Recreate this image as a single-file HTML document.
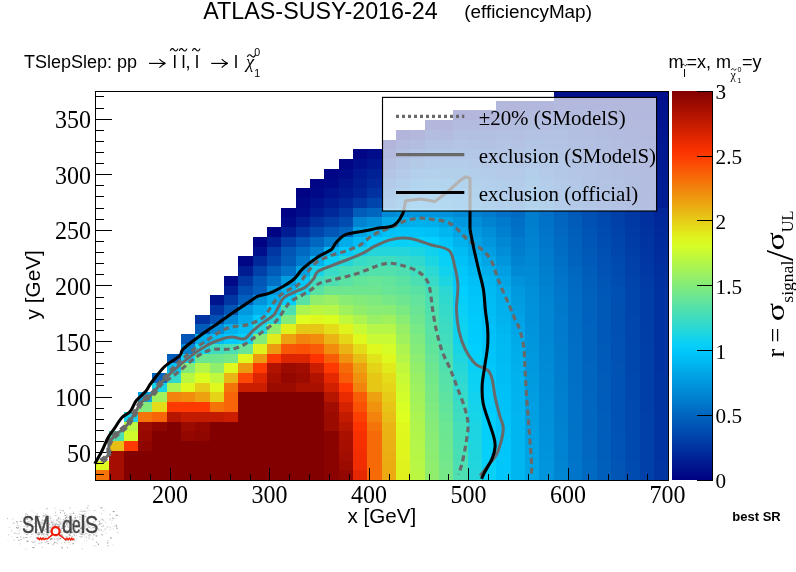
<!DOCTYPE html><html><head><meta charset="utf-8"><title>plot</title><style>html,body{margin:0;padding:0;background:#fff}svg{display:block}text{font-family:"Liberation Sans",sans-serif;fill:#000;filter:grayscale(1)}.t{font-family:"Liberation Serif",serif}</style></head><body>
<svg width="796" height="572" viewBox="0 0 796 572">
<rect width="796" height="572" fill="#fff"/>
<g shape-rendering="crispEdges">
<rect x="95" y="470" width="14" height="11" fill="#f4740a"/>
<rect x="109" y="470" width="15" height="11" fill="#a40e00"/>
<rect x="124" y="470" width="200" height="11" fill="#820000"/>
<rect x="324" y="470" width="15" height="11" fill="#8a0300"/>
<rect x="339" y="470" width="14" height="11" fill="#940700"/>
<rect x="353" y="470" width="14" height="11" fill="#e52800"/>
<rect x="367" y="470" width="15" height="11" fill="#f66b08"/>
<rect x="382" y="470" width="14" height="11" fill="#eca912"/>
<rect x="396" y="470" width="14" height="11" fill="#e0f01c"/>
<rect x="410" y="470" width="15" height="11" fill="#baf743"/>
<rect x="425" y="470" width="14" height="11" fill="#91ee6c"/>
<rect x="439" y="470" width="14" height="11" fill="#76e888"/>
<rect x="453" y="470" width="15" height="11" fill="#4ddfb1"/>
<rect x="468" y="470" width="14" height="11" fill="#24d6db"/>
<rect x="482" y="470" width="14" height="11" fill="#08d0f7"/>
<rect x="496" y="470" width="15" height="11" fill="#00c6fa"/>
<rect x="511" y="470" width="14" height="11" fill="#00b6f0"/>
<rect x="525" y="470" width="14" height="11" fill="#00a6e6"/>
<rect x="539" y="470" width="15" height="11" fill="#0096dd"/>
<rect x="554" y="470" width="14" height="11" fill="#0086d3"/>
<rect x="568" y="470" width="14" height="11" fill="#0075c9"/>
<rect x="582" y="470" width="15" height="11" fill="#0069c2"/>
<rect x="597" y="470" width="14" height="11" fill="#005fbc"/>
<rect x="611" y="470" width="14" height="11" fill="#0055b5"/>
<rect x="625" y="470" width="15" height="11" fill="#004baf"/>
<rect x="640" y="470" width="14" height="11" fill="#0041a9"/>
<rect x="654" y="470" width="15" height="11" fill="#0035a2"/>
<rect x="95" y="461" width="14" height="9" fill="#dff91e"/>
<rect x="109" y="461" width="15" height="9" fill="#a40e00"/>
<rect x="124" y="461" width="200" height="9" fill="#820000"/>
<rect x="324" y="461" width="15" height="9" fill="#8a0300"/>
<rect x="339" y="461" width="14" height="9" fill="#9c0b00"/>
<rect x="353" y="461" width="14" height="9" fill="#ef2d00"/>
<rect x="367" y="461" width="15" height="9" fill="#f66b08"/>
<rect x="382" y="461" width="14" height="9" fill="#ebac12"/>
<rect x="396" y="461" width="14" height="9" fill="#e0f21d"/>
<rect x="410" y="461" width="15" height="9" fill="#b8f745"/>
<rect x="425" y="461" width="14" height="9" fill="#8fee6e"/>
<rect x="439" y="461" width="14" height="9" fill="#74e88a"/>
<rect x="453" y="461" width="15" height="9" fill="#4bdfb3"/>
<rect x="468" y="461" width="14" height="9" fill="#22d6dd"/>
<rect x="482" y="461" width="14" height="9" fill="#07d0f8"/>
<rect x="496" y="461" width="15" height="9" fill="#00c6fa"/>
<rect x="511" y="461" width="14" height="9" fill="#00b6f0"/>
<rect x="525" y="461" width="14" height="9" fill="#00a5e6"/>
<rect x="539" y="461" width="15" height="9" fill="#0095dc"/>
<rect x="554" y="461" width="14" height="9" fill="#0085d2"/>
<rect x="568" y="461" width="14" height="9" fill="#0075c9"/>
<rect x="582" y="461" width="15" height="9" fill="#0069c1"/>
<rect x="597" y="461" width="14" height="9" fill="#005fbb"/>
<rect x="611" y="461" width="14" height="9" fill="#0055b5"/>
<rect x="625" y="461" width="15" height="9" fill="#004baf"/>
<rect x="640" y="461" width="14" height="9" fill="#0041a9"/>
<rect x="654" y="461" width="15" height="9" fill="#0035a2"/>
<rect x="109" y="451" width="15" height="10" fill="#a40e00"/>
<rect x="124" y="451" width="200" height="10" fill="#820000"/>
<rect x="324" y="451" width="15" height="10" fill="#8a0300"/>
<rect x="339" y="451" width="14" height="10" fill="#a10d00"/>
<rect x="353" y="451" width="14" height="10" fill="#f22e00"/>
<rect x="367" y="451" width="15" height="10" fill="#f66b08"/>
<rect x="382" y="451" width="14" height="10" fill="#ebae12"/>
<rect x="396" y="451" width="14" height="10" fill="#e0f41d"/>
<rect x="410" y="451" width="15" height="10" fill="#b6f647"/>
<rect x="425" y="451" width="14" height="10" fill="#8ded71"/>
<rect x="439" y="451" width="14" height="10" fill="#71e78c"/>
<rect x="453" y="451" width="15" height="10" fill="#49dfb5"/>
<rect x="468" y="451" width="14" height="10" fill="#20d6de"/>
<rect x="482" y="451" width="14" height="10" fill="#06d0f9"/>
<rect x="496" y="451" width="15" height="10" fill="#00c6fa"/>
<rect x="511" y="451" width="14" height="10" fill="#00b6f0"/>
<rect x="525" y="451" width="14" height="10" fill="#00a4e5"/>
<rect x="539" y="451" width="15" height="10" fill="#0094dc"/>
<rect x="554" y="451" width="14" height="10" fill="#0084d2"/>
<rect x="568" y="451" width="14" height="10" fill="#0074c8"/>
<rect x="582" y="451" width="15" height="10" fill="#0068c1"/>
<rect x="597" y="451" width="14" height="10" fill="#005ebb"/>
<rect x="611" y="451" width="14" height="10" fill="#0054b5"/>
<rect x="625" y="451" width="15" height="10" fill="#004aaf"/>
<rect x="640" y="451" width="14" height="10" fill="#0040a9"/>
<rect x="654" y="451" width="15" height="10" fill="#0034a2"/>
<rect x="109" y="441" width="15" height="10" fill="#e8be15"/>
<rect x="124" y="441" width="14" height="10" fill="#fe3901"/>
<rect x="138" y="441" width="14" height="10" fill="#8f0500"/>
<rect x="152" y="441" width="172" height="10" fill="#820000"/>
<rect x="324" y="441" width="15" height="10" fill="#8a0300"/>
<rect x="339" y="441" width="14" height="10" fill="#a60f00"/>
<rect x="353" y="441" width="14" height="10" fill="#f52f00"/>
<rect x="367" y="441" width="15" height="10" fill="#f66b08"/>
<rect x="382" y="441" width="14" height="10" fill="#ebb013"/>
<rect x="396" y="441" width="14" height="10" fill="#dff61d"/>
<rect x="410" y="441" width="15" height="10" fill="#b4f649"/>
<rect x="425" y="441" width="14" height="10" fill="#8bed73"/>
<rect x="439" y="441" width="14" height="10" fill="#6fe78f"/>
<rect x="453" y="441" width="15" height="10" fill="#48deb6"/>
<rect x="468" y="441" width="14" height="10" fill="#1fd5e0"/>
<rect x="482" y="441" width="14" height="10" fill="#05d0fa"/>
<rect x="496" y="441" width="15" height="10" fill="#00c5f9"/>
<rect x="511" y="441" width="14" height="10" fill="#00b6f0"/>
<rect x="525" y="441" width="14" height="10" fill="#00a3e4"/>
<rect x="539" y="441" width="15" height="10" fill="#0093db"/>
<rect x="554" y="441" width="14" height="10" fill="#0083d2"/>
<rect x="568" y="441" width="14" height="10" fill="#0074c8"/>
<rect x="582" y="441" width="15" height="10" fill="#0068c1"/>
<rect x="597" y="441" width="14" height="10" fill="#005ebb"/>
<rect x="611" y="441" width="14" height="10" fill="#0054b5"/>
<rect x="625" y="441" width="15" height="10" fill="#004aaf"/>
<rect x="640" y="441" width="14" height="10" fill="#0040a9"/>
<rect x="654" y="441" width="15" height="10" fill="#0034a2"/>
<rect x="109" y="431" width="15" height="10" fill="#4ddfb1"/>
<rect x="124" y="431" width="14" height="10" fill="#d0fc2c"/>
<rect x="138" y="431" width="14" height="10" fill="#970900"/>
<rect x="152" y="431" width="29" height="10" fill="#820000"/>
<rect x="181" y="431" width="14" height="10" fill="#940700"/>
<rect x="195" y="431" width="15" height="10" fill="#8f0500"/>
<rect x="210" y="431" width="114" height="10" fill="#820000"/>
<rect x="324" y="431" width="15" height="10" fill="#8a0300"/>
<rect x="339" y="431" width="14" height="10" fill="#a91000"/>
<rect x="353" y="431" width="14" height="10" fill="#f73000"/>
<rect x="367" y="431" width="15" height="10" fill="#f66b08"/>
<rect x="382" y="431" width="14" height="10" fill="#eab313"/>
<rect x="396" y="431" width="14" height="10" fill="#dff71d"/>
<rect x="410" y="431" width="15" height="10" fill="#b1f54b"/>
<rect x="425" y="431" width="14" height="10" fill="#88ec75"/>
<rect x="439" y="431" width="14" height="10" fill="#6de691"/>
<rect x="453" y="431" width="15" height="10" fill="#46deb8"/>
<rect x="468" y="431" width="14" height="10" fill="#1dd5e2"/>
<rect x="482" y="431" width="14" height="10" fill="#04cffb"/>
<rect x="496" y="431" width="15" height="10" fill="#00c5f9"/>
<rect x="511" y="431" width="14" height="10" fill="#00b6f0"/>
<rect x="525" y="431" width="14" height="10" fill="#00a1e4"/>
<rect x="539" y="431" width="15" height="10" fill="#0092da"/>
<rect x="554" y="431" width="14" height="10" fill="#0083d1"/>
<rect x="568" y="431" width="14" height="10" fill="#0073c8"/>
<rect x="582" y="431" width="15" height="10" fill="#0068c1"/>
<rect x="597" y="431" width="14" height="10" fill="#005dbb"/>
<rect x="611" y="431" width="14" height="10" fill="#0054b5"/>
<rect x="625" y="431" width="15" height="10" fill="#004aaf"/>
<rect x="640" y="431" width="14" height="10" fill="#0040a9"/>
<rect x="654" y="431" width="15" height="10" fill="#0034a2"/>
<rect x="124" y="422" width="14" height="9" fill="#baf743"/>
<rect x="138" y="422" width="14" height="9" fill="#9c0b00"/>
<rect x="152" y="422" width="15" height="9" fill="#8f0500"/>
<rect x="167" y="422" width="14" height="9" fill="#820000"/>
<rect x="181" y="422" width="14" height="9" fill="#9c0b00"/>
<rect x="195" y="422" width="15" height="9" fill="#940700"/>
<rect x="210" y="422" width="114" height="9" fill="#820000"/>
<rect x="324" y="422" width="15" height="9" fill="#9c0b00"/>
<rect x="339" y="422" width="14" height="9" fill="#b61500"/>
<rect x="353" y="422" width="14" height="9" fill="#ff3300"/>
<rect x="367" y="422" width="15" height="9" fill="#f4740a"/>
<rect x="382" y="422" width="14" height="9" fill="#eab514"/>
<rect x="396" y="422" width="14" height="9" fill="#dff91e"/>
<rect x="410" y="422" width="15" height="9" fill="#aff54e"/>
<rect x="425" y="422" width="14" height="9" fill="#86ec77"/>
<rect x="439" y="422" width="14" height="9" fill="#6be693"/>
<rect x="453" y="422" width="15" height="9" fill="#44deba"/>
<rect x="468" y="422" width="14" height="9" fill="#1bd5e3"/>
<rect x="482" y="422" width="14" height="9" fill="#03cffc"/>
<rect x="496" y="422" width="15" height="9" fill="#00c4f9"/>
<rect x="511" y="422" width="14" height="9" fill="#00b6f0"/>
<rect x="525" y="422" width="14" height="9" fill="#00a0e3"/>
<rect x="539" y="422" width="15" height="9" fill="#0091da"/>
<rect x="554" y="422" width="14" height="9" fill="#0082d1"/>
<rect x="568" y="422" width="14" height="9" fill="#0073c7"/>
<rect x="582" y="422" width="15" height="9" fill="#0067c0"/>
<rect x="597" y="422" width="14" height="9" fill="#005dba"/>
<rect x="611" y="422" width="14" height="9" fill="#0053b5"/>
<rect x="625" y="422" width="15" height="9" fill="#0049ae"/>
<rect x="640" y="422" width="14" height="9" fill="#0040a9"/>
<rect x="654" y="422" width="15" height="9" fill="#0034a2"/>
<rect x="124" y="412" width="14" height="10" fill="#16d3e9"/>
<rect x="138" y="412" width="14" height="10" fill="#f4740a"/>
<rect x="152" y="412" width="15" height="10" fill="#f76508"/>
<rect x="167" y="412" width="14" height="10" fill="#b61500"/>
<rect x="181" y="412" width="43" height="10" fill="#c31b00"/>
<rect x="224" y="412" width="14" height="10" fill="#cb1e00"/>
<rect x="238" y="412" width="86" height="10" fill="#820000"/>
<rect x="324" y="412" width="15" height="10" fill="#9c0b00"/>
<rect x="339" y="412" width="14" height="10" fill="#c31b00"/>
<rect x="353" y="412" width="14" height="10" fill="#fd3f02"/>
<rect x="367" y="412" width="15" height="10" fill="#f2830c"/>
<rect x="382" y="412" width="14" height="10" fill="#e9bd15"/>
<rect x="396" y="412" width="14" height="10" fill="#deff1f"/>
<rect x="410" y="412" width="15" height="10" fill="#abf452"/>
<rect x="425" y="412" width="14" height="10" fill="#82eb7b"/>
<rect x="439" y="412" width="14" height="10" fill="#66e597"/>
<rect x="453" y="412" width="15" height="10" fill="#40dcbf"/>
<rect x="468" y="412" width="14" height="10" fill="#18d4e7"/>
<rect x="482" y="412" width="14" height="10" fill="#01cffe"/>
<rect x="496" y="412" width="15" height="10" fill="#00c3f8"/>
<rect x="511" y="412" width="14" height="10" fill="#00b5f0"/>
<rect x="525" y="412" width="14" height="10" fill="#009fe2"/>
<rect x="539" y="412" width="15" height="10" fill="#0090d9"/>
<rect x="554" y="412" width="14" height="10" fill="#0081d0"/>
<rect x="568" y="412" width="14" height="10" fill="#0072c7"/>
<rect x="582" y="412" width="15" height="10" fill="#0067c0"/>
<rect x="597" y="412" width="14" height="10" fill="#005dba"/>
<rect x="611" y="412" width="14" height="10" fill="#0053b4"/>
<rect x="625" y="412" width="15" height="10" fill="#0049ae"/>
<rect x="640" y="412" width="14" height="10" fill="#0040a8"/>
<rect x="654" y="412" width="15" height="10" fill="#0034a2"/>
<rect x="138" y="402" width="14" height="10" fill="#83eb7a"/>
<rect x="152" y="402" width="15" height="10" fill="#e4dc19"/>
<rect x="167" y="402" width="43" height="10" fill="#fe3901"/>
<rect x="210" y="402" width="14" height="10" fill="#f4740a"/>
<rect x="224" y="402" width="14" height="10" fill="#f76508"/>
<rect x="238" y="402" width="86" height="10" fill="#820000"/>
<rect x="324" y="402" width="15" height="10" fill="#a10d00"/>
<rect x="339" y="402" width="14" height="10" fill="#d52200"/>
<rect x="353" y="402" width="14" height="10" fill="#fa5104"/>
<rect x="367" y="402" width="15" height="10" fill="#f0920e"/>
<rect x="382" y="402" width="14" height="10" fill="#e7c416"/>
<rect x="396" y="402" width="14" height="10" fill="#d8fe24"/>
<rect x="410" y="402" width="15" height="10" fill="#a7f357"/>
<rect x="425" y="402" width="14" height="10" fill="#7fea7f"/>
<rect x="439" y="402" width="14" height="10" fill="#62e49c"/>
<rect x="453" y="402" width="15" height="10" fill="#3bdbc4"/>
<rect x="468" y="402" width="14" height="10" fill="#15d3ea"/>
<rect x="482" y="402" width="14" height="10" fill="#00cdfe"/>
<rect x="496" y="402" width="15" height="10" fill="#00c2f7"/>
<rect x="511" y="402" width="14" height="10" fill="#00b5ef"/>
<rect x="525" y="402" width="14" height="10" fill="#009ee2"/>
<rect x="539" y="402" width="15" height="10" fill="#008fd9"/>
<rect x="554" y="402" width="14" height="10" fill="#0080d0"/>
<rect x="568" y="402" width="14" height="10" fill="#0072c7"/>
<rect x="582" y="402" width="15" height="10" fill="#0066c0"/>
<rect x="597" y="402" width="14" height="10" fill="#005cba"/>
<rect x="611" y="402" width="14" height="10" fill="#0053b4"/>
<rect x="625" y="402" width="15" height="10" fill="#0049ae"/>
<rect x="640" y="402" width="14" height="10" fill="#003fa8"/>
<rect x="654" y="402" width="15" height="10" fill="#0034a1"/>
<rect x="138" y="392" width="14" height="10" fill="#00a2e4"/>
<rect x="152" y="392" width="15" height="10" fill="#9ff15e"/>
<rect x="167" y="392" width="14" height="10" fill="#f2830c"/>
<rect x="181" y="392" width="14" height="10" fill="#f18c0d"/>
<rect x="195" y="392" width="15" height="10" fill="#eda010"/>
<rect x="210" y="392" width="14" height="10" fill="#e5d318"/>
<rect x="224" y="392" width="14" height="10" fill="#f76508"/>
<rect x="238" y="392" width="86" height="10" fill="#820000"/>
<rect x="324" y="392" width="15" height="10" fill="#b61500"/>
<rect x="339" y="392" width="14" height="10" fill="#ea2a00"/>
<rect x="353" y="392" width="14" height="10" fill="#f85c06"/>
<rect x="367" y="392" width="15" height="10" fill="#eda010"/>
<rect x="382" y="392" width="14" height="10" fill="#e6cc17"/>
<rect x="396" y="392" width="14" height="10" fill="#d3fd2a"/>
<rect x="410" y="392" width="15" height="10" fill="#a2f25b"/>
<rect x="425" y="392" width="14" height="10" fill="#7be983"/>
<rect x="439" y="392" width="14" height="10" fill="#5ee3a0"/>
<rect x="453" y="392" width="15" height="10" fill="#36dac9"/>
<rect x="468" y="392" width="14" height="10" fill="#12d2ed"/>
<rect x="482" y="392" width="14" height="10" fill="#00ccfd"/>
<rect x="496" y="392" width="15" height="10" fill="#00c1f7"/>
<rect x="511" y="392" width="14" height="10" fill="#00b4ef"/>
<rect x="525" y="392" width="14" height="10" fill="#009de1"/>
<rect x="539" y="392" width="15" height="10" fill="#008ed8"/>
<rect x="554" y="392" width="14" height="10" fill="#0080cf"/>
<rect x="568" y="392" width="14" height="10" fill="#0071c7"/>
<rect x="582" y="392" width="15" height="10" fill="#0066c0"/>
<rect x="597" y="392" width="14" height="10" fill="#005cba"/>
<rect x="611" y="392" width="14" height="10" fill="#0052b4"/>
<rect x="625" y="392" width="15" height="10" fill="#0048ae"/>
<rect x="640" y="392" width="14" height="10" fill="#003fa8"/>
<rect x="654" y="392" width="15" height="10" fill="#0034a1"/>
<rect x="152" y="383" width="15" height="9" fill="#16d3e9"/>
<rect x="167" y="383" width="14" height="9" fill="#adf450"/>
<rect x="181" y="383" width="14" height="9" fill="#dff91e"/>
<rect x="195" y="383" width="15" height="9" fill="#e6cd17"/>
<rect x="210" y="383" width="14" height="9" fill="#dff91e"/>
<rect x="224" y="383" width="14" height="9" fill="#f4740a"/>
<rect x="238" y="383" width="29" height="9" fill="#cb1e00"/>
<rect x="267" y="383" width="29" height="9" fill="#9c0b00"/>
<rect x="296" y="383" width="28" height="9" fill="#a91000"/>
<rect x="324" y="383" width="15" height="9" fill="#d02000"/>
<rect x="339" y="383" width="14" height="9" fill="#fe3901"/>
<rect x="353" y="383" width="14" height="9" fill="#f2830c"/>
<rect x="367" y="383" width="15" height="9" fill="#e7c716"/>
<rect x="382" y="383" width="14" height="9" fill="#e5d418"/>
<rect x="396" y="383" width="14" height="9" fill="#cdfb2f"/>
<rect x="410" y="383" width="15" height="9" fill="#9ef15f"/>
<rect x="425" y="383" width="14" height="9" fill="#77e987"/>
<rect x="439" y="383" width="14" height="9" fill="#59e2a5"/>
<rect x="453" y="383" width="15" height="9" fill="#31d9ce"/>
<rect x="468" y="383" width="14" height="9" fill="#0ed2f1"/>
<rect x="482" y="383" width="14" height="9" fill="#00cafc"/>
<rect x="496" y="383" width="15" height="9" fill="#00c0f6"/>
<rect x="511" y="383" width="14" height="9" fill="#00b3ee"/>
<rect x="525" y="383" width="14" height="9" fill="#009be0"/>
<rect x="539" y="383" width="15" height="9" fill="#008dd7"/>
<rect x="554" y="383" width="14" height="9" fill="#007fcf"/>
<rect x="568" y="383" width="14" height="9" fill="#0071c6"/>
<rect x="582" y="383" width="15" height="9" fill="#0065bf"/>
<rect x="597" y="383" width="14" height="9" fill="#005bb9"/>
<rect x="611" y="383" width="14" height="9" fill="#0052b4"/>
<rect x="625" y="383" width="15" height="9" fill="#0048ae"/>
<rect x="640" y="383" width="14" height="9" fill="#003fa8"/>
<rect x="654" y="383" width="15" height="9" fill="#0034a1"/>
<rect x="152" y="373" width="15" height="10" fill="#0065bf"/>
<rect x="167" y="373" width="14" height="10" fill="#31d9cd"/>
<rect x="181" y="373" width="14" height="10" fill="#baf743"/>
<rect x="195" y="373" width="15" height="10" fill="#dbfe21"/>
<rect x="210" y="373" width="14" height="10" fill="#c0f83d"/>
<rect x="224" y="373" width="14" height="10" fill="#eab514"/>
<rect x="238" y="373" width="15" height="10" fill="#fc4803"/>
<rect x="253" y="373" width="14" height="10" fill="#dd2500"/>
<rect x="267" y="373" width="14" height="10" fill="#a60f00"/>
<rect x="281" y="373" width="15" height="10" fill="#940700"/>
<rect x="296" y="373" width="14" height="10" fill="#9c0b00"/>
<rect x="310" y="373" width="14" height="10" fill="#b11300"/>
<rect x="324" y="373" width="15" height="10" fill="#e52800"/>
<rect x="339" y="373" width="14" height="10" fill="#f85c06"/>
<rect x="353" y="373" width="14" height="10" fill="#f0920e"/>
<rect x="367" y="373" width="15" height="10" fill="#e7c716"/>
<rect x="382" y="373" width="14" height="10" fill="#e4dc19"/>
<rect x="396" y="373" width="14" height="10" fill="#c8fa35"/>
<rect x="410" y="373" width="15" height="10" fill="#99f064"/>
<rect x="425" y="373" width="14" height="10" fill="#73e88b"/>
<rect x="439" y="373" width="14" height="10" fill="#55e1a9"/>
<rect x="453" y="373" width="15" height="10" fill="#2cd8d3"/>
<rect x="468" y="373" width="14" height="10" fill="#0bd1f4"/>
<rect x="482" y="373" width="14" height="10" fill="#00c8fb"/>
<rect x="496" y="373" width="15" height="10" fill="#00bef5"/>
<rect x="511" y="373" width="14" height="10" fill="#00b2ee"/>
<rect x="525" y="373" width="14" height="10" fill="#009adf"/>
<rect x="539" y="373" width="15" height="10" fill="#008cd7"/>
<rect x="554" y="373" width="14" height="10" fill="#007ece"/>
<rect x="568" y="373" width="14" height="10" fill="#0070c6"/>
<rect x="582" y="373" width="15" height="10" fill="#0065bf"/>
<rect x="597" y="373" width="14" height="10" fill="#005bb9"/>
<rect x="611" y="373" width="14" height="10" fill="#0052b4"/>
<rect x="625" y="373" width="15" height="10" fill="#0048ad"/>
<rect x="640" y="373" width="14" height="10" fill="#003fa8"/>
<rect x="654" y="373" width="15" height="10" fill="#0034a1"/>
<rect x="167" y="363" width="14" height="10" fill="#00c0f6"/>
<rect x="181" y="363" width="14" height="10" fill="#83eb7a"/>
<rect x="195" y="363" width="15" height="10" fill="#b5f648"/>
<rect x="210" y="363" width="14" height="10" fill="#91ee6c"/>
<rect x="224" y="363" width="14" height="10" fill="#dff91e"/>
<rect x="238" y="363" width="15" height="10" fill="#ee9a10"/>
<rect x="253" y="363" width="14" height="10" fill="#fe3901"/>
<rect x="267" y="363" width="14" height="10" fill="#b11300"/>
<rect x="281" y="363" width="15" height="10" fill="#9c0b00"/>
<rect x="296" y="363" width="14" height="10" fill="#a10d00"/>
<rect x="310" y="363" width="14" height="10" fill="#cb1e00"/>
<rect x="324" y="363" width="15" height="10" fill="#fe3901"/>
<rect x="339" y="363" width="14" height="10" fill="#f66b08"/>
<rect x="353" y="363" width="14" height="10" fill="#eda010"/>
<rect x="367" y="363" width="15" height="10" fill="#e5d318"/>
<rect x="382" y="363" width="14" height="10" fill="#e1ea1b"/>
<rect x="396" y="363" width="14" height="10" fill="#c0f83d"/>
<rect x="410" y="363" width="15" height="10" fill="#93ef6b"/>
<rect x="425" y="363" width="14" height="10" fill="#6ee690"/>
<rect x="439" y="363" width="14" height="10" fill="#50e0ae"/>
<rect x="453" y="363" width="15" height="10" fill="#26d7d9"/>
<rect x="468" y="363" width="14" height="10" fill="#08d0f7"/>
<rect x="482" y="363" width="14" height="10" fill="#00c7fa"/>
<rect x="496" y="363" width="15" height="10" fill="#00bdf4"/>
<rect x="511" y="363" width="14" height="10" fill="#00b0ed"/>
<rect x="525" y="363" width="14" height="10" fill="#0099df"/>
<rect x="539" y="363" width="15" height="10" fill="#008bd6"/>
<rect x="554" y="363" width="14" height="10" fill="#007dce"/>
<rect x="568" y="363" width="14" height="10" fill="#0070c6"/>
<rect x="582" y="363" width="15" height="10" fill="#0065bf"/>
<rect x="597" y="363" width="14" height="10" fill="#005ab9"/>
<rect x="611" y="363" width="14" height="10" fill="#0052b3"/>
<rect x="625" y="363" width="15" height="10" fill="#0047ad"/>
<rect x="640" y="363" width="14" height="10" fill="#003ea8"/>
<rect x="654" y="363" width="15" height="10" fill="#0033a1"/>
<rect x="167" y="354" width="14" height="9" fill="#005bb9"/>
<rect x="181" y="354" width="14" height="9" fill="#08d0f7"/>
<rect x="195" y="354" width="29" height="9" fill="#6ee690"/>
<rect x="224" y="354" width="14" height="9" fill="#76e888"/>
<rect x="238" y="354" width="15" height="9" fill="#dff91e"/>
<rect x="253" y="354" width="14" height="9" fill="#ee9a10"/>
<rect x="267" y="354" width="14" height="9" fill="#fe3901"/>
<rect x="281" y="354" width="29" height="9" fill="#dd2500"/>
<rect x="310" y="354" width="14" height="9" fill="#ff3300"/>
<rect x="324" y="354" width="15" height="9" fill="#f85c06"/>
<rect x="339" y="354" width="14" height="9" fill="#f0920e"/>
<rect x="353" y="354" width="14" height="9" fill="#e8be15"/>
<rect x="367" y="354" width="15" height="9" fill="#e2e41b"/>
<rect x="382" y="354" width="14" height="9" fill="#dff91e"/>
<rect x="396" y="354" width="14" height="9" fill="#b5f648"/>
<rect x="410" y="354" width="15" height="9" fill="#8ced72"/>
<rect x="425" y="354" width="14" height="9" fill="#68e596"/>
<rect x="439" y="354" width="14" height="9" fill="#4bdfb3"/>
<rect x="453" y="354" width="15" height="9" fill="#1fd5df"/>
<rect x="468" y="354" width="14" height="9" fill="#04cffb"/>
<rect x="482" y="354" width="14" height="9" fill="#00c5f9"/>
<rect x="496" y="354" width="15" height="9" fill="#00bbf3"/>
<rect x="511" y="354" width="14" height="9" fill="#00aeeb"/>
<rect x="525" y="354" width="14" height="9" fill="#0098de"/>
<rect x="539" y="354" width="15" height="9" fill="#008ad6"/>
<rect x="554" y="354" width="14" height="9" fill="#007dcd"/>
<rect x="568" y="354" width="14" height="9" fill="#006fc5"/>
<rect x="582" y="354" width="15" height="9" fill="#0064bf"/>
<rect x="597" y="354" width="14" height="9" fill="#005ab9"/>
<rect x="611" y="354" width="14" height="9" fill="#0051b3"/>
<rect x="625" y="354" width="15" height="9" fill="#0047ad"/>
<rect x="640" y="354" width="14" height="9" fill="#003ea8"/>
<rect x="654" y="354" width="15" height="9" fill="#0033a1"/>
<rect x="181" y="344" width="14" height="10" fill="#0084d2"/>
<rect x="195" y="344" width="15" height="10" fill="#16d3e9"/>
<rect x="210" y="344" width="14" height="10" fill="#3fdcbf"/>
<rect x="224" y="344" width="14" height="10" fill="#4ddfb1"/>
<rect x="238" y="344" width="15" height="10" fill="#68e596"/>
<rect x="253" y="344" width="14" height="10" fill="#e0f01c"/>
<rect x="267" y="344" width="14" height="10" fill="#ee9a10"/>
<rect x="281" y="344" width="15" height="10" fill="#f95605"/>
<rect x="296" y="344" width="14" height="10" fill="#fa5104"/>
<rect x="310" y="344" width="14" height="10" fill="#f85c06"/>
<rect x="324" y="344" width="15" height="10" fill="#f18c0d"/>
<rect x="339" y="344" width="14" height="10" fill="#eab514"/>
<rect x="353" y="344" width="14" height="10" fill="#e4dc19"/>
<rect x="367" y="344" width="15" height="10" fill="#dff91e"/>
<rect x="382" y="344" width="14" height="10" fill="#d6fd27"/>
<rect x="396" y="344" width="14" height="10" fill="#adf450"/>
<rect x="410" y="344" width="15" height="10" fill="#85ec79"/>
<rect x="425" y="344" width="14" height="10" fill="#63e49b"/>
<rect x="439" y="344" width="14" height="10" fill="#47deb8"/>
<rect x="453" y="344" width="15" height="10" fill="#19d4e5"/>
<rect x="468" y="344" width="14" height="10" fill="#01cffe"/>
<rect x="482" y="344" width="14" height="10" fill="#00c4f9"/>
<rect x="496" y="344" width="15" height="10" fill="#00baf2"/>
<rect x="511" y="344" width="14" height="10" fill="#00acea"/>
<rect x="525" y="344" width="14" height="10" fill="#0097dd"/>
<rect x="539" y="344" width="15" height="10" fill="#0089d5"/>
<rect x="554" y="344" width="14" height="10" fill="#007ccd"/>
<rect x="568" y="344" width="14" height="10" fill="#006fc5"/>
<rect x="582" y="344" width="15" height="10" fill="#0064be"/>
<rect x="597" y="344" width="14" height="10" fill="#005ab8"/>
<rect x="611" y="344" width="14" height="10" fill="#0051b3"/>
<rect x="625" y="344" width="15" height="10" fill="#0047ad"/>
<rect x="640" y="344" width="14" height="10" fill="#003ea8"/>
<rect x="654" y="344" width="15" height="10" fill="#0033a1"/>
<rect x="181" y="334" width="14" height="10" fill="#0055b5"/>
<rect x="195" y="334" width="15" height="10" fill="#00acea"/>
<rect x="210" y="334" width="14" height="10" fill="#00bcf4"/>
<rect x="224" y="334" width="14" height="10" fill="#00cafd"/>
<rect x="238" y="334" width="15" height="10" fill="#08d0f7"/>
<rect x="253" y="334" width="14" height="10" fill="#83eb7a"/>
<rect x="267" y="334" width="14" height="10" fill="#e1ea1b"/>
<rect x="281" y="334" width="15" height="10" fill="#eda010"/>
<rect x="296" y="334" width="14" height="10" fill="#f2830c"/>
<rect x="310" y="334" width="14" height="10" fill="#f18c0d"/>
<rect x="324" y="334" width="15" height="10" fill="#eab514"/>
<rect x="339" y="334" width="14" height="10" fill="#e5d618"/>
<rect x="353" y="334" width="14" height="10" fill="#dff91e"/>
<rect x="367" y="334" width="29" height="10" fill="#c8fa35"/>
<rect x="396" y="334" width="14" height="10" fill="#9ff15e"/>
<rect x="410" y="334" width="15" height="10" fill="#7eea80"/>
<rect x="425" y="334" width="14" height="10" fill="#5de3a1"/>
<rect x="439" y="334" width="14" height="10" fill="#42ddbd"/>
<rect x="453" y="334" width="15" height="10" fill="#13d3ec"/>
<rect x="468" y="334" width="14" height="10" fill="#00cdfe"/>
<rect x="482" y="334" width="14" height="10" fill="#00c2f8"/>
<rect x="496" y="334" width="15" height="10" fill="#00b8f2"/>
<rect x="511" y="334" width="14" height="10" fill="#00aae9"/>
<rect x="525" y="334" width="14" height="10" fill="#0096dd"/>
<rect x="539" y="334" width="15" height="10" fill="#0088d5"/>
<rect x="554" y="334" width="14" height="10" fill="#007bcd"/>
<rect x="568" y="334" width="14" height="10" fill="#006ec5"/>
<rect x="582" y="334" width="15" height="10" fill="#0063be"/>
<rect x="597" y="334" width="14" height="10" fill="#0059b8"/>
<rect x="611" y="334" width="14" height="10" fill="#0051b3"/>
<rect x="625" y="334" width="15" height="10" fill="#0046ad"/>
<rect x="640" y="334" width="14" height="10" fill="#003ea7"/>
<rect x="654" y="334" width="15" height="10" fill="#0033a1"/>
<rect x="195" y="324" width="15" height="10" fill="#005bb9"/>
<rect x="210" y="324" width="14" height="10" fill="#008cd7"/>
<rect x="224" y="324" width="14" height="10" fill="#00b2ee"/>
<rect x="238" y="324" width="15" height="10" fill="#00c0f6"/>
<rect x="253" y="324" width="14" height="10" fill="#24d6db"/>
<rect x="267" y="324" width="14" height="10" fill="#91ee6c"/>
<rect x="281" y="324" width="15" height="10" fill="#e0f01c"/>
<rect x="296" y="324" width="28" height="10" fill="#e7c716"/>
<rect x="324" y="324" width="15" height="10" fill="#e4dc19"/>
<rect x="339" y="324" width="14" height="10" fill="#e0f31d"/>
<rect x="353" y="324" width="14" height="10" fill="#c8fa35"/>
<rect x="367" y="324" width="29" height="10" fill="#b5f648"/>
<rect x="396" y="324" width="14" height="10" fill="#97ef67"/>
<rect x="410" y="324" width="15" height="10" fill="#77e987"/>
<rect x="425" y="324" width="14" height="10" fill="#59e2a5"/>
<rect x="439" y="324" width="14" height="10" fill="#3ddcc1"/>
<rect x="453" y="324" width="15" height="10" fill="#0fd2ef"/>
<rect x="468" y="324" width="14" height="10" fill="#00cbfd"/>
<rect x="482" y="324" width="14" height="10" fill="#00c1f7"/>
<rect x="496" y="324" width="15" height="10" fill="#00b6f0"/>
<rect x="511" y="324" width="14" height="10" fill="#00a6e7"/>
<rect x="525" y="324" width="14" height="10" fill="#0094dc"/>
<rect x="539" y="324" width="15" height="10" fill="#0087d4"/>
<rect x="554" y="324" width="14" height="10" fill="#007acc"/>
<rect x="568" y="324" width="14" height="10" fill="#006dc4"/>
<rect x="582" y="324" width="15" height="10" fill="#0063be"/>
<rect x="597" y="324" width="14" height="10" fill="#0059b8"/>
<rect x="611" y="324" width="14" height="10" fill="#0050b3"/>
<rect x="625" y="324" width="15" height="10" fill="#0046ac"/>
<rect x="640" y="324" width="14" height="10" fill="#003ea7"/>
<rect x="654" y="324" width="15" height="10" fill="#0033a1"/>
<rect x="195" y="315" width="15" height="9" fill="#0033a1"/>
<rect x="210" y="315" width="14" height="9" fill="#0051b3"/>
<rect x="224" y="315" width="14" height="9" fill="#008ad5"/>
<rect x="238" y="315" width="15" height="9" fill="#00acea"/>
<rect x="253" y="315" width="14" height="9" fill="#00cafd"/>
<rect x="267" y="315" width="14" height="9" fill="#24d6db"/>
<rect x="281" y="315" width="15" height="9" fill="#83eb7a"/>
<rect x="296" y="315" width="14" height="9" fill="#deff1f"/>
<rect x="310" y="315" width="14" height="9" fill="#dff91e"/>
<rect x="324" y="315" width="15" height="9" fill="#dbfe21"/>
<rect x="339" y="315" width="14" height="9" fill="#c0f83d"/>
<rect x="353" y="315" width="14" height="9" fill="#adf450"/>
<rect x="367" y="315" width="15" height="9" fill="#99f064"/>
<rect x="382" y="315" width="14" height="9" fill="#9ff15e"/>
<rect x="396" y="315" width="14" height="9" fill="#89ec74"/>
<rect x="410" y="315" width="15" height="9" fill="#70e78e"/>
<rect x="425" y="315" width="14" height="9" fill="#54e1aa"/>
<rect x="439" y="315" width="14" height="9" fill="#39dbc5"/>
<rect x="453" y="315" width="15" height="9" fill="#0cd1f3"/>
<rect x="468" y="315" width="14" height="9" fill="#00c9fc"/>
<rect x="482" y="315" width="14" height="9" fill="#00bff6"/>
<rect x="496" y="315" width="15" height="9" fill="#00b3ef"/>
<rect x="511" y="315" width="14" height="9" fill="#00a3e5"/>
<rect x="525" y="315" width="14" height="9" fill="#0093db"/>
<rect x="539" y="315" width="15" height="9" fill="#0087d3"/>
<rect x="554" y="315" width="14" height="9" fill="#007acc"/>
<rect x="568" y="315" width="14" height="9" fill="#006dc4"/>
<rect x="582" y="315" width="15" height="9" fill="#0062be"/>
<rect x="597" y="315" width="14" height="9" fill="#0058b7"/>
<rect x="611" y="315" width="14" height="9" fill="#0050b2"/>
<rect x="625" y="315" width="15" height="9" fill="#0046ac"/>
<rect x="640" y="315" width="14" height="9" fill="#003da7"/>
<rect x="654" y="315" width="15" height="9" fill="#0033a1"/>
<rect x="210" y="305" width="14" height="10" fill="#0033a1"/>
<rect x="224" y="305" width="14" height="10" fill="#0055b5"/>
<rect x="238" y="305" width="15" height="10" fill="#0098de"/>
<rect x="253" y="305" width="14" height="10" fill="#00b0ed"/>
<rect x="267" y="305" width="14" height="10" fill="#00cafd"/>
<rect x="281" y="305" width="15" height="10" fill="#4ddfb1"/>
<rect x="296" y="305" width="14" height="10" fill="#adf450"/>
<rect x="310" y="305" width="14" height="10" fill="#baf743"/>
<rect x="324" y="305" width="15" height="10" fill="#b5f648"/>
<rect x="339" y="305" width="14" height="10" fill="#9ff15e"/>
<rect x="353" y="305" width="14" height="10" fill="#91ee6c"/>
<rect x="367" y="305" width="29" height="10" fill="#89ec74"/>
<rect x="396" y="305" width="14" height="10" fill="#7be982"/>
<rect x="410" y="305" width="15" height="10" fill="#69e595"/>
<rect x="425" y="305" width="14" height="10" fill="#50e0ae"/>
<rect x="439" y="305" width="14" height="10" fill="#35daca"/>
<rect x="453" y="305" width="15" height="10" fill="#08d0f7"/>
<rect x="468" y="305" width="14" height="10" fill="#00c8fb"/>
<rect x="482" y="305" width="14" height="10" fill="#00bef5"/>
<rect x="496" y="305" width="15" height="10" fill="#00b1ed"/>
<rect x="511" y="305" width="14" height="10" fill="#009fe2"/>
<rect x="525" y="305" width="14" height="10" fill="#0092da"/>
<rect x="539" y="305" width="15" height="10" fill="#0086d3"/>
<rect x="554" y="305" width="14" height="10" fill="#0079cb"/>
<rect x="568" y="305" width="14" height="10" fill="#006cc4"/>
<rect x="582" y="305" width="15" height="10" fill="#0062bd"/>
<rect x="597" y="305" width="14" height="10" fill="#0058b7"/>
<rect x="611" y="305" width="14" height="10" fill="#0050b2"/>
<rect x="625" y="305" width="15" height="10" fill="#0045ac"/>
<rect x="640" y="305" width="14" height="10" fill="#003da7"/>
<rect x="654" y="305" width="15" height="10" fill="#0033a1"/>
<rect x="210" y="295" width="14" height="10" fill="#00148e"/>
<rect x="224" y="295" width="14" height="10" fill="#0037a3"/>
<rect x="238" y="295" width="15" height="10" fill="#005fbc"/>
<rect x="253" y="295" width="14" height="10" fill="#0092da"/>
<rect x="267" y="295" width="14" height="10" fill="#00b0ed"/>
<rect x="281" y="295" width="15" height="10" fill="#00cfff"/>
<rect x="296" y="295" width="14" height="10" fill="#5ae2a4"/>
<rect x="310" y="295" width="14" height="10" fill="#91ee6c"/>
<rect x="324" y="295" width="15" height="10" fill="#99f064"/>
<rect x="339" y="295" width="14" height="10" fill="#89ec74"/>
<rect x="353" y="295" width="14" height="10" fill="#83eb7a"/>
<rect x="367" y="295" width="15" height="10" fill="#7eea80"/>
<rect x="382" y="295" width="14" height="10" fill="#76e888"/>
<rect x="396" y="295" width="14" height="10" fill="#6ee690"/>
<rect x="410" y="295" width="15" height="10" fill="#62e49c"/>
<rect x="425" y="295" width="14" height="10" fill="#4cdfb3"/>
<rect x="439" y="295" width="14" height="10" fill="#30d9ce"/>
<rect x="453" y="295" width="15" height="10" fill="#04cffb"/>
<rect x="468" y="295" width="14" height="10" fill="#00c6fa"/>
<rect x="482" y="295" width="14" height="10" fill="#00bcf4"/>
<rect x="496" y="295" width="15" height="10" fill="#00afec"/>
<rect x="511" y="295" width="14" height="10" fill="#009ce0"/>
<rect x="525" y="295" width="14" height="10" fill="#0091da"/>
<rect x="539" y="295" width="15" height="10" fill="#0085d2"/>
<rect x="554" y="295" width="14" height="10" fill="#0078cb"/>
<rect x="568" y="295" width="14" height="10" fill="#006cc3"/>
<rect x="582" y="295" width="15" height="10" fill="#0062bd"/>
<rect x="597" y="295" width="14" height="10" fill="#0058b7"/>
<rect x="611" y="295" width="14" height="10" fill="#004fb2"/>
<rect x="625" y="295" width="15" height="10" fill="#0045ac"/>
<rect x="640" y="295" width="14" height="10" fill="#003da7"/>
<rect x="654" y="295" width="15" height="10" fill="#0033a1"/>
<rect x="224" y="286" width="14" height="9" fill="#001e94"/>
<rect x="238" y="286" width="15" height="9" fill="#004baf"/>
<rect x="253" y="286" width="14" height="9" fill="#005fbc"/>
<rect x="267" y="286" width="14" height="9" fill="#0098de"/>
<rect x="281" y="286" width="15" height="9" fill="#00b6f0"/>
<rect x="296" y="286" width="14" height="9" fill="#16d3e9"/>
<rect x="310" y="286" width="14" height="9" fill="#5ae2a4"/>
<rect x="324" y="286" width="58" height="9" fill="#6ee690"/>
<rect x="382" y="286" width="14" height="9" fill="#68e596"/>
<rect x="396" y="286" width="14" height="9" fill="#63e49b"/>
<rect x="410" y="286" width="15" height="9" fill="#5ae2a4"/>
<rect x="425" y="286" width="14" height="9" fill="#47deb7"/>
<rect x="439" y="286" width="14" height="9" fill="#2cd8d3"/>
<rect x="453" y="286" width="15" height="9" fill="#00cfff"/>
<rect x="468" y="286" width="14" height="9" fill="#00c4f9"/>
<rect x="482" y="286" width="14" height="9" fill="#00baf3"/>
<rect x="496" y="286" width="15" height="9" fill="#00acea"/>
<rect x="511" y="286" width="14" height="9" fill="#0098de"/>
<rect x="525" y="286" width="14" height="9" fill="#0090d9"/>
<rect x="539" y="286" width="15" height="9" fill="#0084d2"/>
<rect x="554" y="286" width="14" height="9" fill="#0077ca"/>
<rect x="568" y="286" width="14" height="9" fill="#006bc3"/>
<rect x="582" y="286" width="15" height="9" fill="#0061bd"/>
<rect x="597" y="286" width="14" height="9" fill="#0057b7"/>
<rect x="611" y="286" width="14" height="9" fill="#004fb2"/>
<rect x="625" y="286" width="15" height="9" fill="#0045ac"/>
<rect x="640" y="286" width="14" height="9" fill="#003da7"/>
<rect x="654" y="286" width="15" height="9" fill="#0033a1"/>
<rect x="224" y="276" width="14" height="10" fill="#000a88"/>
<rect x="238" y="276" width="15" height="10" fill="#0037a3"/>
<rect x="253" y="276" width="14" height="10" fill="#0057b7"/>
<rect x="267" y="276" width="14" height="10" fill="#0071c7"/>
<rect x="281" y="276" width="15" height="10" fill="#009ce0"/>
<rect x="296" y="276" width="14" height="10" fill="#00c6fa"/>
<rect x="310" y="276" width="14" height="10" fill="#3fdcbf"/>
<rect x="324" y="276" width="15" height="10" fill="#4ddfb1"/>
<rect x="339" y="276" width="14" height="10" fill="#5ae2a4"/>
<rect x="353" y="276" width="14" height="10" fill="#63e49b"/>
<rect x="367" y="276" width="15" height="10" fill="#68e596"/>
<rect x="382" y="276" width="14" height="10" fill="#63e49b"/>
<rect x="396" y="276" width="14" height="10" fill="#5ae2a4"/>
<rect x="410" y="276" width="15" height="10" fill="#4ddfb1"/>
<rect x="425" y="276" width="14" height="10" fill="#37dbc8"/>
<rect x="439" y="276" width="14" height="10" fill="#1bd5e3"/>
<rect x="453" y="276" width="15" height="10" fill="#00cafd"/>
<rect x="468" y="276" width="14" height="10" fill="#00c0f6"/>
<rect x="482" y="276" width="14" height="10" fill="#00b6f0"/>
<rect x="496" y="276" width="15" height="10" fill="#00a6e6"/>
<rect x="511" y="276" width="14" height="10" fill="#0092da"/>
<rect x="525" y="276" width="14" height="10" fill="#008dd7"/>
<rect x="539" y="276" width="15" height="10" fill="#0081d0"/>
<rect x="554" y="276" width="14" height="10" fill="#0075c9"/>
<rect x="568" y="276" width="14" height="10" fill="#0069c2"/>
<rect x="582" y="276" width="15" height="10" fill="#005fbb"/>
<rect x="597" y="276" width="14" height="10" fill="#0055b5"/>
<rect x="611" y="276" width="14" height="10" fill="#004db1"/>
<rect x="625" y="276" width="15" height="10" fill="#0043ab"/>
<rect x="640" y="276" width="14" height="10" fill="#003ba6"/>
<rect x="654" y="276" width="15" height="10" fill="#0031a0"/>
<rect x="238" y="266" width="15" height="10" fill="#001c93"/>
<rect x="253" y="266" width="14" height="10" fill="#0041a9"/>
<rect x="267" y="266" width="14" height="10" fill="#005bb9"/>
<rect x="281" y="266" width="15" height="10" fill="#0071c7"/>
<rect x="296" y="266" width="14" height="10" fill="#00a2e4"/>
<rect x="310" y="266" width="14" height="10" fill="#16d3e9"/>
<rect x="324" y="266" width="15" height="10" fill="#37dbc8"/>
<rect x="339" y="266" width="14" height="10" fill="#47deb7"/>
<rect x="353" y="266" width="14" height="10" fill="#4ddfb1"/>
<rect x="367" y="266" width="29" height="10" fill="#52e0ac"/>
<rect x="396" y="266" width="14" height="10" fill="#4ddfb1"/>
<rect x="410" y="266" width="15" height="10" fill="#3fdcbf"/>
<rect x="425" y="266" width="14" height="10" fill="#2cd8d3"/>
<rect x="439" y="266" width="14" height="10" fill="#10d2ee"/>
<rect x="453" y="266" width="15" height="10" fill="#00c6fa"/>
<rect x="468" y="266" width="14" height="10" fill="#00baf3"/>
<rect x="482" y="266" width="14" height="10" fill="#00aeeb"/>
<rect x="496" y="266" width="15" height="10" fill="#009ee2"/>
<rect x="511" y="266" width="14" height="10" fill="#008ad5"/>
<rect x="525" y="266" width="14" height="10" fill="#008bd6"/>
<rect x="539" y="266" width="15" height="10" fill="#007fcf"/>
<rect x="554" y="266" width="14" height="10" fill="#0072c7"/>
<rect x="568" y="266" width="14" height="10" fill="#0067c0"/>
<rect x="582" y="266" width="15" height="10" fill="#005dba"/>
<rect x="597" y="266" width="14" height="10" fill="#0053b4"/>
<rect x="611" y="266" width="14" height="10" fill="#004baf"/>
<rect x="625" y="266" width="15" height="10" fill="#0041aa"/>
<rect x="640" y="266" width="14" height="10" fill="#0039a5"/>
<rect x="654" y="266" width="15" height="10" fill="#00309f"/>
<rect x="238" y="256" width="15" height="10" fill="#000686"/>
<rect x="253" y="256" width="14" height="10" fill="#00289b"/>
<rect x="267" y="256" width="14" height="10" fill="#0043aa"/>
<rect x="281" y="256" width="15" height="10" fill="#005bb9"/>
<rect x="296" y="256" width="14" height="10" fill="#007acc"/>
<rect x="310" y="256" width="14" height="10" fill="#00b0ed"/>
<rect x="324" y="256" width="15" height="10" fill="#08d0f7"/>
<rect x="339" y="256" width="14" height="10" fill="#24d6db"/>
<rect x="353" y="256" width="14" height="10" fill="#37dbc8"/>
<rect x="367" y="256" width="29" height="10" fill="#3fdcbf"/>
<rect x="396" y="256" width="14" height="10" fill="#37dbc8"/>
<rect x="410" y="256" width="15" height="10" fill="#31d9cd"/>
<rect x="425" y="256" width="14" height="10" fill="#1bd5e3"/>
<rect x="439" y="256" width="14" height="10" fill="#08d0f7"/>
<rect x="453" y="256" width="15" height="10" fill="#00c2f8"/>
<rect x="468" y="256" width="14" height="10" fill="#00b2ee"/>
<rect x="482" y="256" width="14" height="10" fill="#00a6e6"/>
<rect x="496" y="256" width="15" height="10" fill="#0096dd"/>
<rect x="511" y="256" width="14" height="10" fill="#0084d2"/>
<rect x="525" y="256" width="14" height="10" fill="#0088d4"/>
<rect x="539" y="256" width="15" height="10" fill="#007ccd"/>
<rect x="554" y="256" width="14" height="10" fill="#0070c6"/>
<rect x="568" y="256" width="14" height="10" fill="#0064bf"/>
<rect x="582" y="256" width="15" height="10" fill="#005ab9"/>
<rect x="597" y="256" width="14" height="10" fill="#0051b3"/>
<rect x="611" y="256" width="14" height="10" fill="#0049ae"/>
<rect x="625" y="256" width="15" height="10" fill="#0040a8"/>
<rect x="640" y="256" width="14" height="10" fill="#0037a4"/>
<rect x="654" y="256" width="15" height="10" fill="#002e9e"/>
<rect x="253" y="247" width="14" height="9" fill="#00108c"/>
<rect x="267" y="247" width="14" height="9" fill="#0037a3"/>
<rect x="281" y="247" width="15" height="9" fill="#0055b5"/>
<rect x="296" y="247" width="14" height="9" fill="#0069c2"/>
<rect x="310" y="247" width="14" height="9" fill="#0080cf"/>
<rect x="324" y="247" width="15" height="9" fill="#00b6f0"/>
<rect x="339" y="247" width="14" height="9" fill="#00cafd"/>
<rect x="353" y="247" width="14" height="9" fill="#10d2ee"/>
<rect x="367" y="247" width="43" height="9" fill="#24d6db"/>
<rect x="410" y="247" width="15" height="9" fill="#1bd5e3"/>
<rect x="425" y="247" width="14" height="9" fill="#10d2ee"/>
<rect x="439" y="247" width="14" height="9" fill="#00cfff"/>
<rect x="453" y="247" width="15" height="9" fill="#00bcf4"/>
<rect x="468" y="247" width="14" height="9" fill="#00aae9"/>
<rect x="482" y="247" width="14" height="9" fill="#009ee2"/>
<rect x="496" y="247" width="15" height="9" fill="#008ed8"/>
<rect x="511" y="247" width="14" height="9" fill="#007ece"/>
<rect x="525" y="247" width="14" height="9" fill="#0086d3"/>
<rect x="539" y="247" width="15" height="9" fill="#007acc"/>
<rect x="554" y="247" width="14" height="9" fill="#006dc4"/>
<rect x="568" y="247" width="14" height="9" fill="#0062bd"/>
<rect x="582" y="247" width="15" height="9" fill="#0058b7"/>
<rect x="597" y="247" width="14" height="9" fill="#004fb2"/>
<rect x="611" y="247" width="14" height="9" fill="#0047ad"/>
<rect x="625" y="247" width="15" height="9" fill="#003ea7"/>
<rect x="640" y="247" width="14" height="9" fill="#0036a3"/>
<rect x="654" y="247" width="15" height="9" fill="#002d9d"/>
<rect x="253" y="237" width="14" height="10" fill="#000484"/>
<rect x="267" y="237" width="14" height="10" fill="#001e94"/>
<rect x="281" y="237" width="15" height="10" fill="#003da7"/>
<rect x="296" y="237" width="14" height="10" fill="#0053b4"/>
<rect x="310" y="237" width="14" height="10" fill="#0067c1"/>
<rect x="324" y="237" width="15" height="10" fill="#007ece"/>
<rect x="339" y="237" width="14" height="10" fill="#00acea"/>
<rect x="353" y="237" width="14" height="10" fill="#00bef5"/>
<rect x="367" y="237" width="15" height="10" fill="#00cfff"/>
<rect x="382" y="237" width="43" height="10" fill="#08d0f7"/>
<rect x="425" y="237" width="14" height="10" fill="#00cfff"/>
<rect x="439" y="237" width="14" height="10" fill="#00c4f9"/>
<rect x="453" y="237" width="15" height="10" fill="#00b2ee"/>
<rect x="468" y="237" width="14" height="10" fill="#00a2e4"/>
<rect x="482" y="237" width="14" height="10" fill="#0096dd"/>
<rect x="496" y="237" width="15" height="10" fill="#0088d4"/>
<rect x="511" y="237" width="14" height="10" fill="#007acc"/>
<rect x="525" y="237" width="14" height="10" fill="#0083d1"/>
<rect x="539" y="237" width="15" height="10" fill="#0077ca"/>
<rect x="554" y="237" width="14" height="10" fill="#006bc3"/>
<rect x="568" y="237" width="14" height="10" fill="#0060bc"/>
<rect x="582" y="237" width="15" height="10" fill="#0056b6"/>
<rect x="597" y="237" width="14" height="10" fill="#004db1"/>
<rect x="611" y="237" width="14" height="10" fill="#0045ac"/>
<rect x="625" y="237" width="15" height="10" fill="#003ca6"/>
<rect x="640" y="237" width="14" height="10" fill="#0034a1"/>
<rect x="654" y="237" width="15" height="10" fill="#002b9c"/>
<rect x="267" y="227" width="14" height="10" fill="#000484"/>
<rect x="281" y="227" width="15" height="10" fill="#001c93"/>
<rect x="296" y="227" width="14" height="10" fill="#0033a1"/>
<rect x="310" y="227" width="14" height="10" fill="#0047ad"/>
<rect x="324" y="227" width="15" height="10" fill="#0057b7"/>
<rect x="339" y="227" width="14" height="10" fill="#0065bf"/>
<rect x="353" y="227" width="14" height="10" fill="#00a2e4"/>
<rect x="367" y="227" width="15" height="10" fill="#00b2ee"/>
<rect x="382" y="227" width="14" height="10" fill="#00c0f6"/>
<rect x="396" y="227" width="29" height="10" fill="#00c4f9"/>
<rect x="425" y="227" width="14" height="10" fill="#00c0f6"/>
<rect x="439" y="227" width="14" height="10" fill="#00b6f0"/>
<rect x="453" y="227" width="15" height="10" fill="#00a6e6"/>
<rect x="468" y="227" width="14" height="10" fill="#0098de"/>
<rect x="482" y="227" width="14" height="10" fill="#008ed8"/>
<rect x="496" y="227" width="15" height="10" fill="#0080cf"/>
<rect x="511" y="227" width="14" height="10" fill="#0073c8"/>
<rect x="525" y="227" width="14" height="10" fill="#0081d0"/>
<rect x="539" y="227" width="15" height="10" fill="#0074c8"/>
<rect x="554" y="227" width="14" height="10" fill="#0068c1"/>
<rect x="568" y="227" width="14" height="10" fill="#005ebb"/>
<rect x="582" y="227" width="15" height="10" fill="#0054b5"/>
<rect x="597" y="227" width="14" height="10" fill="#004baf"/>
<rect x="611" y="227" width="14" height="10" fill="#0043aa"/>
<rect x="625" y="227" width="15" height="10" fill="#003aa5"/>
<rect x="640" y="227" width="14" height="10" fill="#0032a0"/>
<rect x="654" y="227" width="15" height="10" fill="#002a9b"/>
<rect x="281" y="217" width="15" height="10" fill="#000a88"/>
<rect x="296" y="217" width="14" height="10" fill="#001c93"/>
<rect x="310" y="217" width="14" height="10" fill="#002f9e"/>
<rect x="324" y="217" width="15" height="10" fill="#003da7"/>
<rect x="339" y="217" width="14" height="10" fill="#004baf"/>
<rect x="353" y="217" width="14" height="10" fill="#0084d2"/>
<rect x="367" y="217" width="15" height="10" fill="#008ed8"/>
<rect x="382" y="217" width="14" height="10" fill="#00a6e6"/>
<rect x="396" y="217" width="14" height="10" fill="#00acea"/>
<rect x="410" y="217" width="15" height="10" fill="#00b0ed"/>
<rect x="425" y="217" width="14" height="10" fill="#00aeeb"/>
<rect x="439" y="217" width="14" height="10" fill="#00a6e6"/>
<rect x="453" y="217" width="15" height="10" fill="#0098de"/>
<rect x="468" y="217" width="14" height="10" fill="#008ed8"/>
<rect x="482" y="217" width="14" height="10" fill="#0084d2"/>
<rect x="496" y="217" width="15" height="10" fill="#007acc"/>
<rect x="511" y="217" width="14" height="10" fill="#006fc5"/>
<rect x="525" y="217" width="14" height="10" fill="#007ece"/>
<rect x="539" y="217" width="15" height="10" fill="#0072c7"/>
<rect x="554" y="217" width="14" height="10" fill="#0066c0"/>
<rect x="568" y="217" width="14" height="10" fill="#005bb9"/>
<rect x="582" y="217" width="15" height="10" fill="#0051b3"/>
<rect x="597" y="217" width="14" height="10" fill="#0049ae"/>
<rect x="611" y="217" width="14" height="10" fill="#0041a9"/>
<rect x="625" y="217" width="15" height="10" fill="#0038a4"/>
<rect x="640" y="217" width="14" height="10" fill="#00309f"/>
<rect x="654" y="217" width="15" height="10" fill="#00289a"/>
<rect x="281" y="208" width="15" height="9" fill="#000484"/>
<rect x="296" y="208" width="14" height="9" fill="#000c89"/>
<rect x="310" y="208" width="14" height="9" fill="#001c93"/>
<rect x="324" y="208" width="15" height="9" fill="#00289b"/>
<rect x="339" y="208" width="14" height="9" fill="#0037a3"/>
<rect x="353" y="208" width="14" height="9" fill="#005bb9"/>
<rect x="367" y="208" width="15" height="9" fill="#0065bf"/>
<rect x="382" y="208" width="14" height="9" fill="#008ad5"/>
<rect x="396" y="208" width="14" height="9" fill="#0092da"/>
<rect x="410" y="208" width="29" height="9" fill="#0096dd"/>
<rect x="439" y="208" width="14" height="9" fill="#0092da"/>
<rect x="453" y="208" width="15" height="9" fill="#008ad5"/>
<rect x="468" y="208" width="14" height="9" fill="#0082d0"/>
<rect x="482" y="208" width="14" height="9" fill="#007acc"/>
<rect x="496" y="208" width="15" height="9" fill="#0071c7"/>
<rect x="511" y="208" width="14" height="9" fill="#0069c2"/>
<rect x="525" y="208" width="14" height="9" fill="#007ccd"/>
<rect x="539" y="208" width="15" height="9" fill="#006fc5"/>
<rect x="554" y="208" width="14" height="9" fill="#0063be"/>
<rect x="568" y="208" width="14" height="9" fill="#0059b8"/>
<rect x="582" y="208" width="15" height="9" fill="#004fb2"/>
<rect x="597" y="208" width="14" height="9" fill="#0047ad"/>
<rect x="611" y="208" width="14" height="9" fill="#003fa8"/>
<rect x="625" y="208" width="15" height="9" fill="#0037a3"/>
<rect x="640" y="208" width="14" height="9" fill="#002f9e"/>
<rect x="654" y="208" width="15" height="9" fill="#002699"/>
<rect x="296" y="198" width="14" height="10" fill="#000887"/>
<rect x="310" y="198" width="14" height="10" fill="#00128d"/>
<rect x="324" y="198" width="15" height="10" fill="#001c93"/>
<rect x="339" y="198" width="14" height="10" fill="#002699"/>
<rect x="353" y="198" width="14" height="10" fill="#0035a2"/>
<rect x="367" y="198" width="15" height="10" fill="#0045ac"/>
<rect x="382" y="198" width="14" height="10" fill="#0063be"/>
<rect x="396" y="198" width="14" height="10" fill="#0075c9"/>
<rect x="410" y="198" width="29" height="10" fill="#0084d2"/>
<rect x="439" y="198" width="14" height="10" fill="#0080d0"/>
<rect x="453" y="198" width="15" height="10" fill="#0079cb"/>
<rect x="468" y="198" width="14" height="10" fill="#0072c7"/>
<rect x="482" y="198" width="14" height="10" fill="#006bc3"/>
<rect x="496" y="198" width="15" height="10" fill="#0064be"/>
<rect x="511" y="198" width="14" height="10" fill="#005dba"/>
<rect x="525" y="198" width="14" height="10" fill="#006dc4"/>
<rect x="539" y="198" width="15" height="10" fill="#0061bd"/>
<rect x="554" y="198" width="14" height="10" fill="#0055b6"/>
<rect x="568" y="198" width="14" height="10" fill="#004cb0"/>
<rect x="582" y="198" width="15" height="10" fill="#0042aa"/>
<rect x="597" y="198" width="14" height="10" fill="#003ba6"/>
<rect x="611" y="198" width="14" height="10" fill="#0033a1"/>
<rect x="625" y="198" width="15" height="10" fill="#002c9d"/>
<rect x="640" y="198" width="14" height="10" fill="#002599"/>
<rect x="654" y="198" width="15" height="10" fill="#001e94"/>
<rect x="296" y="188" width="14" height="10" fill="#000484"/>
<rect x="310" y="188" width="14" height="10" fill="#000a88"/>
<rect x="324" y="188" width="15" height="10" fill="#00128d"/>
<rect x="339" y="188" width="14" height="10" fill="#001a92"/>
<rect x="353" y="188" width="14" height="10" fill="#002498"/>
<rect x="367" y="188" width="15" height="10" fill="#0033a1"/>
<rect x="382" y="188" width="14" height="10" fill="#005bb9"/>
<rect x="396" y="188" width="14" height="10" fill="#006dc4"/>
<rect x="410" y="188" width="15" height="10" fill="#007bcd"/>
<rect x="425" y="188" width="14" height="10" fill="#007dce"/>
<rect x="439" y="188" width="14" height="10" fill="#0079cb"/>
<rect x="453" y="188" width="15" height="10" fill="#0074c8"/>
<rect x="468" y="188" width="14" height="10" fill="#006dc4"/>
<rect x="482" y="188" width="14" height="10" fill="#0066c0"/>
<rect x="496" y="188" width="15" height="10" fill="#0060bc"/>
<rect x="511" y="188" width="14" height="10" fill="#0059b8"/>
<rect x="525" y="188" width="14" height="10" fill="#0069c1"/>
<rect x="539" y="188" width="15" height="10" fill="#005dba"/>
<rect x="554" y="188" width="14" height="10" fill="#0053b4"/>
<rect x="568" y="188" width="14" height="10" fill="#0049ae"/>
<rect x="582" y="188" width="15" height="10" fill="#0040a9"/>
<rect x="597" y="188" width="14" height="10" fill="#0039a5"/>
<rect x="611" y="188" width="14" height="10" fill="#0032a0"/>
<rect x="625" y="188" width="15" height="10" fill="#002b9c"/>
<rect x="640" y="188" width="14" height="10" fill="#002498"/>
<rect x="654" y="188" width="15" height="10" fill="#001e94"/>
<rect x="310" y="179" width="14" height="9" fill="#000686"/>
<rect x="324" y="179" width="15" height="9" fill="#000a88"/>
<rect x="339" y="179" width="14" height="9" fill="#00148e"/>
<rect x="353" y="179" width="14" height="9" fill="#001e94"/>
<rect x="367" y="179" width="15" height="9" fill="#00289b"/>
<rect x="382" y="179" width="14" height="9" fill="#004eb1"/>
<rect x="396" y="179" width="14" height="9" fill="#0060bc"/>
<rect x="410" y="179" width="15" height="9" fill="#006ec5"/>
<rect x="425" y="179" width="14" height="9" fill="#0072c7"/>
<rect x="439" y="179" width="14" height="9" fill="#006fc5"/>
<rect x="453" y="179" width="15" height="9" fill="#006bc3"/>
<rect x="468" y="179" width="14" height="9" fill="#0065bf"/>
<rect x="482" y="179" width="14" height="9" fill="#005fbb"/>
<rect x="496" y="179" width="15" height="9" fill="#005ab9"/>
<rect x="511" y="179" width="14" height="9" fill="#0054b5"/>
<rect x="525" y="179" width="14" height="9" fill="#0062bd"/>
<rect x="539" y="179" width="15" height="9" fill="#0058b7"/>
<rect x="554" y="179" width="14" height="9" fill="#004eb1"/>
<rect x="568" y="179" width="14" height="9" fill="#0046ac"/>
<rect x="582" y="179" width="15" height="9" fill="#003da7"/>
<rect x="597" y="179" width="14" height="9" fill="#0037a3"/>
<rect x="611" y="179" width="14" height="9" fill="#00309f"/>
<rect x="625" y="179" width="15" height="9" fill="#00299b"/>
<rect x="640" y="179" width="14" height="9" fill="#002397"/>
<rect x="654" y="179" width="15" height="9" fill="#001d94"/>
<rect x="324" y="169" width="15" height="10" fill="#000686"/>
<rect x="339" y="169" width="14" height="10" fill="#000c89"/>
<rect x="353" y="169" width="14" height="10" fill="#001891"/>
<rect x="367" y="169" width="15" height="10" fill="#002096"/>
<rect x="382" y="169" width="14" height="10" fill="#003fa8"/>
<rect x="396" y="169" width="14" height="10" fill="#0051b3"/>
<rect x="410" y="169" width="15" height="10" fill="#005ebb"/>
<rect x="425" y="169" width="14" height="10" fill="#0065bf"/>
<rect x="439" y="169" width="14" height="10" fill="#0062bd"/>
<rect x="453" y="169" width="15" height="10" fill="#0061bd"/>
<rect x="468" y="169" width="14" height="10" fill="#005bb9"/>
<rect x="482" y="169" width="14" height="10" fill="#0056b6"/>
<rect x="496" y="169" width="15" height="10" fill="#0053b4"/>
<rect x="511" y="169" width="14" height="10" fill="#004db1"/>
<rect x="525" y="169" width="14" height="10" fill="#005ab9"/>
<rect x="539" y="169" width="15" height="10" fill="#0051b3"/>
<rect x="554" y="169" width="14" height="10" fill="#0049ae"/>
<rect x="568" y="169" width="14" height="10" fill="#0041aa"/>
<rect x="582" y="169" width="15" height="10" fill="#003aa5"/>
<rect x="597" y="169" width="14" height="10" fill="#0033a1"/>
<rect x="611" y="169" width="14" height="10" fill="#002d9d"/>
<rect x="625" y="169" width="15" height="10" fill="#00279a"/>
<rect x="640" y="169" width="14" height="10" fill="#002296"/>
<rect x="654" y="169" width="15" height="10" fill="#001c93"/>
<rect x="339" y="159" width="14" height="10" fill="#000686"/>
<rect x="353" y="159" width="14" height="10" fill="#00108c"/>
<rect x="367" y="159" width="15" height="10" fill="#001690"/>
<rect x="382" y="159" width="14" height="10" fill="#002d9d"/>
<rect x="396" y="159" width="14" height="10" fill="#0041a9"/>
<rect x="410" y="159" width="15" height="10" fill="#004db0"/>
<rect x="425" y="159" width="14" height="10" fill="#0056b6"/>
<rect x="439" y="159" width="14" height="10" fill="#0054b5"/>
<rect x="453" y="159" width="15" height="10" fill="#0055b6"/>
<rect x="468" y="159" width="14" height="10" fill="#0051b3"/>
<rect x="482" y="159" width="14" height="10" fill="#004cb0"/>
<rect x="496" y="159" width="15" height="10" fill="#004baf"/>
<rect x="511" y="159" width="14" height="10" fill="#0046ac"/>
<rect x="525" y="159" width="14" height="10" fill="#0052b4"/>
<rect x="539" y="159" width="15" height="10" fill="#0049ae"/>
<rect x="554" y="159" width="14" height="10" fill="#0044ab"/>
<rect x="568" y="159" width="14" height="10" fill="#003da7"/>
<rect x="582" y="159" width="15" height="10" fill="#0036a2"/>
<rect x="597" y="159" width="14" height="10" fill="#00309f"/>
<rect x="611" y="159" width="14" height="10" fill="#002a9c"/>
<rect x="625" y="159" width="15" height="10" fill="#002599"/>
<rect x="640" y="159" width="14" height="10" fill="#002095"/>
<rect x="654" y="159" width="15" height="10" fill="#001b92"/>
<rect x="353" y="149" width="14" height="10" fill="#000686"/>
<rect x="367" y="149" width="15" height="10" fill="#000c89"/>
<rect x="382" y="149" width="14" height="10" fill="#001a92"/>
<rect x="396" y="149" width="14" height="10" fill="#002e9e"/>
<rect x="410" y="149" width="15" height="10" fill="#0039a5"/>
<rect x="425" y="149" width="14" height="10" fill="#0045ac"/>
<rect x="439" y="149" width="14" height="10" fill="#0044ab"/>
<rect x="453" y="149" width="15" height="10" fill="#0049ae"/>
<rect x="468" y="149" width="14" height="10" fill="#0045ac"/>
<rect x="482" y="149" width="14" height="10" fill="#0041a9"/>
<rect x="496" y="149" width="15" height="10" fill="#0042aa"/>
<rect x="511" y="149" width="14" height="10" fill="#003ea7"/>
<rect x="525" y="149" width="14" height="10" fill="#0048ae"/>
<rect x="539" y="149" width="15" height="10" fill="#0041aa"/>
<rect x="554" y="149" width="14" height="10" fill="#003da7"/>
<rect x="568" y="149" width="14" height="10" fill="#0037a3"/>
<rect x="582" y="149" width="15" height="10" fill="#0031a0"/>
<rect x="597" y="149" width="14" height="10" fill="#002c9d"/>
<rect x="611" y="149" width="14" height="10" fill="#00279a"/>
<rect x="625" y="149" width="15" height="10" fill="#002397"/>
<rect x="640" y="149" width="14" height="10" fill="#001e94"/>
<rect x="654" y="149" width="15" height="10" fill="#001991"/>
<rect x="382" y="140" width="14" height="9" fill="#000686"/>
<rect x="396" y="140" width="14" height="9" fill="#001b92"/>
<rect x="410" y="140" width="15" height="9" fill="#002498"/>
<rect x="425" y="140" width="14" height="9" fill="#0034a2"/>
<rect x="439" y="140" width="14" height="9" fill="#0033a1"/>
<rect x="453" y="140" width="15" height="9" fill="#003ba6"/>
<rect x="468" y="140" width="14" height="9" fill="#0038a4"/>
<rect x="482" y="140" width="14" height="9" fill="#0035a2"/>
<rect x="496" y="140" width="15" height="9" fill="#0039a4"/>
<rect x="511" y="140" width="14" height="9" fill="#0035a2"/>
<rect x="525" y="140" width="14" height="9" fill="#003ea8"/>
<rect x="539" y="140" width="15" height="9" fill="#0038a4"/>
<rect x="554" y="140" width="14" height="9" fill="#0037a3"/>
<rect x="568" y="140" width="14" height="9" fill="#0031a0"/>
<rect x="582" y="140" width="15" height="9" fill="#002c9d"/>
<rect x="597" y="140" width="14" height="9" fill="#00289a"/>
<rect x="611" y="140" width="14" height="9" fill="#002498"/>
<rect x="625" y="140" width="15" height="9" fill="#002095"/>
<rect x="640" y="140" width="14" height="9" fill="#001c93"/>
<rect x="654" y="140" width="15" height="9" fill="#001891"/>
<rect x="396" y="130" width="14" height="10" fill="#000686"/>
<rect x="410" y="130" width="15" height="10" fill="#000e8b"/>
<rect x="425" y="130" width="14" height="10" fill="#002296"/>
<rect x="439" y="130" width="14" height="10" fill="#002196"/>
<rect x="453" y="130" width="15" height="10" fill="#002d9d"/>
<rect x="468" y="130" width="14" height="10" fill="#002b9c"/>
<rect x="482" y="130" width="14" height="10" fill="#00299b"/>
<rect x="496" y="130" width="15" height="10" fill="#002f9e"/>
<rect x="511" y="130" width="14" height="10" fill="#002c9d"/>
<rect x="525" y="130" width="14" height="10" fill="#0034a1"/>
<rect x="539" y="130" width="15" height="10" fill="#002f9f"/>
<rect x="554" y="130" width="14" height="10" fill="#00309f"/>
<rect x="568" y="130" width="14" height="10" fill="#002b9c"/>
<rect x="582" y="130" width="15" height="10" fill="#00279a"/>
<rect x="597" y="130" width="14" height="10" fill="#002498"/>
<rect x="611" y="130" width="14" height="10" fill="#002096"/>
<rect x="625" y="130" width="15" height="10" fill="#001d94"/>
<rect x="640" y="130" width="14" height="10" fill="#001a92"/>
<rect x="654" y="130" width="15" height="10" fill="#001790"/>
<rect x="425" y="120" width="28" height="10" fill="#000e8b"/>
<rect x="453" y="120" width="15" height="10" fill="#001e94"/>
<rect x="468" y="120" width="14" height="10" fill="#001d94"/>
<rect x="482" y="120" width="14" height="10" fill="#001c93"/>
<rect x="496" y="120" width="15" height="10" fill="#002498"/>
<rect x="511" y="120" width="14" height="10" fill="#002397"/>
<rect x="525" y="120" width="14" height="10" fill="#00289a"/>
<rect x="539" y="120" width="15" height="10" fill="#002599"/>
<rect x="554" y="120" width="14" height="10" fill="#00289a"/>
<rect x="568" y="120" width="14" height="10" fill="#002598"/>
<rect x="582" y="120" width="15" height="10" fill="#002296"/>
<rect x="597" y="120" width="14" height="10" fill="#001f95"/>
<rect x="611" y="120" width="14" height="10" fill="#001d93"/>
<rect x="625" y="120" width="15" height="10" fill="#001a92"/>
<rect x="640" y="120" width="14" height="10" fill="#001890"/>
<rect x="654" y="120" width="15" height="10" fill="#00158f"/>
<rect x="453" y="110" width="43" height="10" fill="#000e8b"/>
<rect x="496" y="110" width="15" height="10" fill="#001a91"/>
<rect x="511" y="110" width="14" height="10" fill="#001991"/>
<rect x="525" y="110" width="14" height="10" fill="#001c93"/>
<rect x="539" y="110" width="15" height="10" fill="#001b92"/>
<rect x="554" y="110" width="14" height="10" fill="#002196"/>
<rect x="568" y="110" width="14" height="10" fill="#001e94"/>
<rect x="582" y="110" width="15" height="10" fill="#001c93"/>
<rect x="597" y="110" width="14" height="10" fill="#001a92"/>
<rect x="611" y="110" width="14" height="10" fill="#001991"/>
<rect x="625" y="110" width="15" height="10" fill="#001790"/>
<rect x="640" y="110" width="14" height="10" fill="#00158f"/>
<rect x="654" y="110" width="15" height="10" fill="#00148e"/>
<rect x="496" y="101" width="29" height="9" fill="#000e8b"/>
<rect x="525" y="101" width="29" height="9" fill="#00108c"/>
<rect x="554" y="101" width="14" height="9" fill="#001991"/>
<rect x="568" y="101" width="14" height="9" fill="#001790"/>
<rect x="582" y="101" width="15" height="9" fill="#001690"/>
<rect x="597" y="101" width="14" height="9" fill="#00158f"/>
<rect x="611" y="101" width="29" height="9" fill="#00148e"/>
<rect x="640" y="101" width="14" height="9" fill="#00138d"/>
<rect x="654" y="101" width="15" height="9" fill="#00128d"/>
<rect x="554" y="91" width="115" height="10" fill="#00108c"/>
</g>
<defs><linearGradient id="cb" x1="0" y1="1" x2="0" y2="0">
<stop offset="0.000" stop-color="#000082"/>
<stop offset="0.025" stop-color="#000f8b"/>
<stop offset="0.050" stop-color="#001e94"/>
<stop offset="0.075" stop-color="#002e9e"/>
<stop offset="0.100" stop-color="#003da7"/>
<stop offset="0.125" stop-color="#004cb0"/>
<stop offset="0.150" stop-color="#005bb9"/>
<stop offset="0.175" stop-color="#006ac2"/>
<stop offset="0.200" stop-color="#007acc"/>
<stop offset="0.225" stop-color="#0089d5"/>
<stop offset="0.250" stop-color="#0098de"/>
<stop offset="0.275" stop-color="#00a7e7"/>
<stop offset="0.300" stop-color="#00b6f0"/>
<stop offset="0.325" stop-color="#00c5f9"/>
<stop offset="0.350" stop-color="#08d0f7"/>
<stop offset="0.375" stop-color="#1dd5e2"/>
<stop offset="0.400" stop-color="#31d9cd"/>
<stop offset="0.425" stop-color="#46deb8"/>
<stop offset="0.450" stop-color="#5ae2a4"/>
<stop offset="0.475" stop-color="#6fe78f"/>
<stop offset="0.500" stop-color="#83eb7a"/>
<stop offset="0.525" stop-color="#98f065"/>
<stop offset="0.550" stop-color="#adf450"/>
<stop offset="0.575" stop-color="#c1f93c"/>
<stop offset="0.600" stop-color="#d6fd27"/>
<stop offset="0.625" stop-color="#e0f21d"/>
<stop offset="0.650" stop-color="#e4dc19"/>
<stop offset="0.675" stop-color="#e7c516"/>
<stop offset="0.700" stop-color="#ebaf13"/>
<stop offset="0.725" stop-color="#ee990f"/>
<stop offset="0.750" stop-color="#f2830c"/>
<stop offset="0.775" stop-color="#f66d09"/>
<stop offset="0.800" stop-color="#f95605"/>
<stop offset="0.825" stop-color="#fd4002"/>
<stop offset="0.850" stop-color="#f73000"/>
<stop offset="0.875" stop-color="#e42800"/>
<stop offset="0.900" stop-color="#d02000"/>
<stop offset="0.925" stop-color="#bd1800"/>
<stop offset="0.950" stop-color="#a91000"/>
<stop offset="0.975" stop-color="#960800"/>
<stop offset="1.000" stop-color="#820000"/>
</linearGradient></defs>
<rect x="672" y="91" width="41" height="389" fill="url(#cb)" shape-rendering="crispEdges"/><rect x="712" y="91" width="1" height="389.5" fill="#000" shape-rendering="crispEdges"/>
<g stroke="#000" stroke-width="1" fill="none" shape-rendering="crispEdges">
<rect x="95.5" y="91.5" width="573" height="389"/>
<line x1="110.5" y1="480.3" x2="110.5" y2="474.3"/>
<line x1="130.5" y1="480.3" x2="130.5" y2="474.3"/>
<line x1="150.5" y1="480.3" x2="150.5" y2="474.3"/>
<line x1="170.5" y1="480.3" x2="170.5" y2="468.3"/>
<line x1="190.5" y1="480.3" x2="190.5" y2="474.3"/>
<line x1="210.5" y1="480.3" x2="210.5" y2="474.3"/>
<line x1="230.5" y1="480.3" x2="230.5" y2="474.3"/>
<line x1="250.5" y1="480.3" x2="250.5" y2="474.3"/>
<line x1="269.5" y1="480.3" x2="269.5" y2="468.3"/>
<line x1="289.5" y1="480.3" x2="289.5" y2="474.3"/>
<line x1="309.5" y1="480.3" x2="309.5" y2="474.3"/>
<line x1="329.5" y1="480.3" x2="329.5" y2="474.3"/>
<line x1="349.5" y1="480.3" x2="349.5" y2="474.3"/>
<line x1="369.5" y1="480.3" x2="369.5" y2="468.3"/>
<line x1="389.5" y1="480.3" x2="389.5" y2="474.3"/>
<line x1="409.5" y1="480.3" x2="409.5" y2="474.3"/>
<line x1="429.5" y1="480.3" x2="429.5" y2="474.3"/>
<line x1="448.5" y1="480.3" x2="448.5" y2="474.3"/>
<line x1="468.5" y1="480.3" x2="468.5" y2="468.3"/>
<line x1="488.5" y1="480.3" x2="488.5" y2="474.3"/>
<line x1="508.5" y1="480.3" x2="508.5" y2="474.3"/>
<line x1="528.5" y1="480.3" x2="528.5" y2="474.3"/>
<line x1="548.5" y1="480.3" x2="548.5" y2="474.3"/>
<line x1="568.5" y1="480.3" x2="568.5" y2="468.3"/>
<line x1="588.5" y1="480.3" x2="588.5" y2="474.3"/>
<line x1="608.5" y1="480.3" x2="608.5" y2="474.3"/>
<line x1="627.5" y1="480.3" x2="627.5" y2="474.3"/>
<line x1="647.5" y1="480.3" x2="647.5" y2="474.3"/>
<line x1="95.6" y1="474.5" x2="103.6" y2="474.5"/>
<line x1="95.6" y1="463.5" x2="103.6" y2="463.5"/>
<line x1="95.6" y1="452.5" x2="111.6" y2="452.5"/>
<line x1="95.6" y1="441.5" x2="103.6" y2="441.5"/>
<line x1="95.6" y1="430.5" x2="103.6" y2="430.5"/>
<line x1="95.6" y1="419.5" x2="103.6" y2="419.5"/>
<line x1="95.6" y1="408.5" x2="103.6" y2="408.5"/>
<line x1="95.6" y1="397.5" x2="111.6" y2="397.5"/>
<line x1="95.6" y1="385.5" x2="103.6" y2="385.5"/>
<line x1="95.6" y1="374.5" x2="103.6" y2="374.5"/>
<line x1="95.6" y1="363.5" x2="103.6" y2="363.5"/>
<line x1="95.6" y1="352.5" x2="103.6" y2="352.5"/>
<line x1="95.6" y1="341.5" x2="111.6" y2="341.5"/>
<line x1="95.6" y1="330.5" x2="103.6" y2="330.5"/>
<line x1="95.6" y1="319.5" x2="103.6" y2="319.5"/>
<line x1="95.6" y1="308.5" x2="103.6" y2="308.5"/>
<line x1="95.6" y1="297.5" x2="103.6" y2="297.5"/>
<line x1="95.6" y1="285.5" x2="111.6" y2="285.5"/>
<line x1="95.6" y1="274.5" x2="103.6" y2="274.5"/>
<line x1="95.6" y1="263.5" x2="103.6" y2="263.5"/>
<line x1="95.6" y1="252.5" x2="103.6" y2="252.5"/>
<line x1="95.6" y1="241.5" x2="103.6" y2="241.5"/>
<line x1="95.6" y1="230.5" x2="111.6" y2="230.5"/>
<line x1="95.6" y1="219.5" x2="103.6" y2="219.5"/>
<line x1="95.6" y1="208.5" x2="103.6" y2="208.5"/>
<line x1="95.6" y1="196.5" x2="103.6" y2="196.5"/>
<line x1="95.6" y1="185.5" x2="103.6" y2="185.5"/>
<line x1="95.6" y1="174.5" x2="111.6" y2="174.5"/>
<line x1="95.6" y1="163.5" x2="103.6" y2="163.5"/>
<line x1="95.6" y1="152.5" x2="103.6" y2="152.5"/>
<line x1="95.6" y1="141.5" x2="103.6" y2="141.5"/>
<line x1="95.6" y1="130.5" x2="103.6" y2="130.5"/>
<line x1="95.6" y1="119.5" x2="111.6" y2="119.5"/>
<line x1="95.6" y1="108.5" x2="103.6" y2="108.5"/>
<line x1="95.6" y1="96.5" x2="103.6" y2="96.5"/>
<line x1="696.5" y1="480.5" x2="712.6" y2="480.5"/>
<line x1="696.5" y1="415.5" x2="712.6" y2="415.5"/>
<line x1="696.5" y1="350.5" x2="712.6" y2="350.5"/>
<line x1="696.5" y1="285.5" x2="712.6" y2="285.5"/>
<line x1="696.5" y1="220.5" x2="712.6" y2="220.5"/>
<line x1="696.5" y1="156.5" x2="712.6" y2="156.5"/>
<line x1="696.5" y1="91.5" x2="712.6" y2="91.5"/>
</g>
<g fill="none" stroke-linejoin="round">
<path d="M100.6 460.3C101.7 459.2 106.1 456.7 107.4 453.6C108.7 450.6 107.2 445.2 108.3 442.0C109.4 438.8 111.2 437.3 114.1 434.4C117.0 431.5 122.4 428.3 125.6 424.8C128.8 421.3 130.7 417.2 133.3 413.2C135.9 409.2 137.8 404.2 141.0 400.7C144.2 397.2 149.6 394.9 152.6 392.0C155.6 389.1 155.3 387.4 159.1 383.0C162.9 378.6 169.7 370.8 175.2 365.4C180.7 360.0 186.4 355.2 192.0 350.8C197.6 346.4 203.5 342.7 208.7 339.2C213.9 335.7 219.2 331.9 223.4 329.8C227.6 327.7 229.7 327.5 233.9 326.6C238.1 325.7 243.7 326.1 248.6 324.5C253.5 322.9 259.4 320.3 263.3 317.2C267.2 314.1 269.2 309.0 271.7 305.7C274.1 302.4 275.2 299.9 278.0 297.3C280.8 294.7 285.2 291.9 288.5 289.9C291.8 287.9 294.7 288.1 297.8 285.2C300.9 282.3 304.2 276.5 307.3 272.6C310.4 268.8 312.9 264.9 316.7 262.1C320.5 259.3 325.6 257.6 330.3 255.8C335.0 254.0 340.1 252.9 345.0 251.2C349.9 249.4 355.5 247.7 359.7 245.3C363.9 242.9 367.0 239.2 370.2 237.0C373.4 234.8 374.8 234.1 378.6 232.3C382.5 230.6 388.8 228.4 393.3 226.5C397.9 224.6 401.7 222.0 405.9 220.6C410.1 219.2 414.8 218.6 418.5 218.3C422.2 218.0 423.4 218.1 428.0 218.7C432.6 219.3 441.5 220.2 446.2 221.8C450.9 223.4 452.5 225.1 456.0 228.0C459.5 230.9 463.0 235.7 467.2 239.2C471.4 242.7 477.2 245.5 481.2 249.0C485.2 252.5 488.0 254.6 491.0 260.2C494.0 265.8 496.3 275.0 499.3 282.5C502.3 290.0 506.3 298.5 509.1 305.0C511.9 311.5 514.4 317.9 516.1 321.7C517.8 325.5 517.9 323.9 519.1 328.0C520.4 332.1 522.6 339.0 523.6 346.0C524.6 353.0 524.6 361.6 525.1 370.1C525.6 378.6 526.0 388.1 526.6 397.1C527.2 406.1 528.1 415.6 528.7 424.1C529.4 432.6 530.0 441.2 530.5 448.2C531.0 455.2 531.6 461.6 531.7 466.2C531.8 470.8 531.2 474.2 531.1 475.8" stroke="#696969" stroke-width="3.2" stroke-dasharray="5.8 3.9"/>
<path d="M102.5 462.3C103.6 461.2 108.0 458.7 109.3 455.6C110.6 452.6 109.1 447.2 110.2 444.0C111.3 440.8 113.1 439.3 116.0 436.4C118.9 433.5 124.3 430.3 127.5 426.8C130.7 423.3 132.6 419.2 135.2 415.2C137.8 411.2 139.7 406.2 142.9 402.7C146.1 399.2 151.5 396.9 154.5 394.0C157.5 391.1 157.2 388.5 161.0 385.0C164.8 381.5 171.4 377.5 177.3 372.8C183.2 368.1 190.6 360.9 196.2 357.0C201.8 353.1 206.3 351.0 210.8 349.7C215.3 348.4 219.6 349.5 223.4 349.3C227.2 349.1 230.4 349.5 233.9 348.7C237.4 347.9 240.9 346.4 244.4 344.5C247.9 342.6 251.4 339.6 254.9 337.1C258.4 334.7 261.9 332.4 265.4 329.8C268.9 327.2 272.8 324.7 275.9 321.4C279.0 318.1 281.9 313.2 284.3 309.9C286.7 306.6 287.7 303.9 290.5 301.5C293.3 299.1 297.5 297.7 301.0 295.7C304.5 293.7 308.4 291.5 311.5 289.4C314.6 287.3 315.7 284.9 319.9 283.1C324.1 281.4 331.0 280.3 336.6 278.9C342.2 277.5 348.1 276.3 353.4 274.7C358.6 273.1 363.9 271.1 368.1 269.5C372.3 267.9 375.1 266.4 378.6 265.3C382.1 264.2 385.2 263.2 389.1 263.2C393.0 263.2 397.1 264.0 401.7 265.3C406.3 266.6 412.6 268.4 416.8 270.8C421.0 273.2 424.4 276.4 426.6 279.8C428.8 283.2 429.2 286.3 430.2 291.0C431.2 295.7 431.3 301.3 432.4 308.0C433.4 314.7 434.8 323.6 436.5 331.0C438.2 338.4 440.2 345.8 442.5 352.1C444.8 358.4 447.5 362.6 450.0 368.6C452.5 374.6 455.0 381.4 457.5 388.1C460.0 394.9 463.3 402.8 465.1 409.1C466.9 415.4 468.0 419.7 468.1 425.7C468.2 431.7 466.7 438.9 465.7 445.2C464.7 451.4 463.3 458.3 462.1 463.2C460.9 468.1 459.0 472.7 458.4 474.6" stroke="#696969" stroke-width="3.2" stroke-dasharray="5.8 3.9"/>
<path d="M101.5 461.3C102.6 460.2 107.0 457.7 108.3 454.6C109.6 451.6 108.1 446.2 109.2 443.0C110.3 439.8 112.1 438.3 115.0 435.4C117.9 432.5 123.3 429.3 126.5 425.8C129.7 422.3 131.6 418.2 134.2 414.2C136.8 410.2 138.7 405.2 141.9 401.7C145.1 398.2 150.5 395.9 153.5 393.0C156.5 390.1 157.1 387.4 160.0 384.0C162.9 380.6 166.7 376.8 171.0 372.8C175.3 368.8 181.2 363.9 185.7 360.2C190.2 356.5 194.0 353.6 198.2 350.8C202.4 348.0 207.0 345.3 210.8 343.4C214.7 341.5 217.8 340.2 221.3 339.2C224.8 338.1 228.0 337.2 231.8 337.1C235.7 337.0 240.9 339.9 244.4 338.8C247.9 337.8 249.7 333.5 252.8 330.8C256.0 328.1 259.8 325.0 263.3 322.4C266.8 319.8 271.2 317.9 273.8 315.1C276.4 312.3 277.2 308.7 279.0 305.7C280.8 302.7 281.3 299.8 284.3 297.3C287.3 294.9 293.3 292.7 296.8 291.0C300.3 289.3 302.4 289.3 305.2 287.3C308.0 285.3 311.5 281.5 313.6 278.9C315.7 276.3 314.7 273.9 317.8 271.6C320.9 269.3 327.2 267.4 332.4 265.3C337.6 263.2 343.9 261.1 349.2 259.0C354.4 256.9 359.7 254.8 363.9 252.7C368.1 250.6 370.2 248.5 374.4 246.4C378.6 244.3 384.6 241.5 389.1 240.1C393.7 238.7 397.6 238.2 401.7 238.0C405.8 237.8 409.1 238.1 414.0 239.2C418.9 240.3 425.0 242.9 430.8 244.8C436.6 246.7 445.0 246.9 449.0 250.4C453.0 253.9 453.1 260.0 454.6 265.8C456.1 271.6 457.6 277.9 457.9 285.3C458.2 292.7 456.3 302.4 456.5 310.0C456.7 317.6 457.6 324.5 459.0 331.0C460.4 337.5 462.3 343.5 465.1 349.0C467.9 354.5 471.9 360.6 475.6 364.1C479.4 367.6 484.9 367.6 487.6 370.1C490.4 372.6 490.9 374.6 492.1 379.1C493.4 383.6 493.9 391.1 495.1 397.1C496.4 403.1 498.2 410.1 499.6 415.1C501.0 420.1 502.9 423.2 503.2 427.2C503.5 431.2 502.8 434.7 501.7 439.2C500.6 443.7 499.0 449.7 496.6 454.2C494.2 458.7 490.4 462.6 487.6 466.2C484.9 469.8 481.4 474.2 480.1 475.8" stroke="#696969" stroke-width="3"/>
<path d="M94.8 463.7C95.9 461.7 99.2 456.1 101.5 451.7C103.8 447.3 106.0 441.3 108.3 437.3C110.5 433.3 112.8 431.0 115.0 427.7C117.2 424.4 119.1 420.4 121.7 417.7C124.3 415.0 128.0 414.1 130.4 411.3C132.8 408.5 133.6 404.2 136.2 400.8C138.8 397.4 143.2 394.2 145.8 391.2C148.4 388.1 148.3 386.6 151.5 382.5C154.7 378.4 160.0 370.9 164.7 366.5C169.3 362.1 176.2 359.0 179.4 356.0C182.6 353.0 179.8 352.4 183.6 348.7C187.4 345.0 196.5 338.4 202.4 334.0C208.3 329.6 213.9 326.1 219.2 322.4C224.4 318.7 229.3 315.1 233.9 312.0C238.5 308.9 242.5 306.2 246.5 303.6C250.5 301.0 254.2 297.9 258.0 296.2C261.9 294.4 265.2 294.9 269.6 293.1C274.0 291.4 280.1 288.1 284.3 285.7C288.5 283.2 291.6 281.3 294.7 278.4C297.8 275.5 299.2 272.0 303.1 268.4C307.0 264.8 313.1 260.0 317.8 256.9C322.5 253.7 328.4 251.8 331.4 249.5C334.4 247.2 333.3 245.6 335.6 243.2C337.9 240.8 340.3 236.9 345.0 234.9C349.7 232.9 358.3 232.2 363.9 231.1C369.5 230.0 374.1 228.9 378.6 228.1C383.2 227.3 388.1 227.5 391.2 226.5C394.3 225.5 395.6 224.5 397.5 222.3C399.4 220.1 401.6 216.1 402.8 213.5C404.0 210.9 404.2 208.1 404.5 207.0" stroke="#000" stroke-width="3.05"/>
<path d="M404.5 207.0L405.6 200.8L421.0 199.1L435.0 201.4L446.2 193.0L460.2 180.4L465.8 176.8L470.0 178.4L470.0 211.2L470.0 229.4" stroke="#000" stroke-width="3.05"/>
<path d="M470.0 229.4C470.6 232.2 471.9 239.7 473.3 246.2C474.7 252.7 476.7 261.4 478.4 268.6C480.1 275.8 482.2 282.5 483.4 289.5C484.6 296.5 484.7 304.1 485.4 310.5C486.1 316.9 487.2 322.1 487.6 328.0C488.0 333.9 488.1 339.5 487.6 346.0C487.1 352.5 485.5 360.6 484.6 367.1C483.7 373.6 482.4 379.1 482.2 385.1C481.9 391.1 482.2 397.6 483.1 403.1C484.0 408.6 485.9 412.6 487.6 418.1C489.4 423.6 492.4 431.4 493.6 436.2C494.9 441.0 495.4 442.9 495.1 446.7C494.9 450.4 493.9 454.4 492.1 458.7C490.4 462.9 486.4 468.8 484.6 472.2C482.9 475.6 482.1 477.7 481.6 478.8" stroke="#000" stroke-width="3.05"/>
</g>
<text class="t" transform="translate(170.1,502.9) scale(1,1.07)" font-size="24" text-anchor="middle">200</text>
<text class="t" transform="translate(269.6,502.9) scale(1,1.07)" font-size="24" text-anchor="middle">300</text>
<text class="t" transform="translate(369.0,502.9) scale(1,1.07)" font-size="24" text-anchor="middle">400</text>
<text class="t" transform="translate(468.5,502.9) scale(1,1.07)" font-size="24" text-anchor="middle">500</text>
<text class="t" transform="translate(567.9,502.9) scale(1,1.07)" font-size="24" text-anchor="middle">600</text>
<text class="t" transform="translate(667.4,502.9) scale(1,1.07)" font-size="24" text-anchor="middle">700</text>
<text class="t" transform="translate(90.9,461.6) scale(1,1.07)" font-size="24" text-anchor="end">50</text>
<text class="t" transform="translate(90.9,406.0) scale(1,1.07)" font-size="24" text-anchor="end">100</text>
<text class="t" transform="translate(90.9,350.5) scale(1,1.07)" font-size="24" text-anchor="end">150</text>
<text class="t" transform="translate(90.9,294.9) scale(1,1.07)" font-size="24" text-anchor="end">200</text>
<text class="t" transform="translate(90.9,239.3) scale(1,1.07)" font-size="24" text-anchor="end">250</text>
<text class="t" transform="translate(90.9,183.8) scale(1,1.07)" font-size="24" text-anchor="end">300</text>
<text class="t" transform="translate(90.9,128.2) scale(1,1.07)" font-size="24" text-anchor="end">350</text>
<text class="t" x="715.6" y="488.2" font-size="21.2" text-anchor="start">0</text>
<text class="t" x="715.6" y="423.4" font-size="21.2" text-anchor="start">0.5</text>
<text class="t" x="715.6" y="358.5" font-size="21.2" text-anchor="start">1</text>
<text class="t" x="715.6" y="293.7" font-size="21.2" text-anchor="start">1.5</text>
<text class="t" x="715.6" y="228.9" font-size="21.2" text-anchor="start">2</text>
<text class="t" x="715.6" y="164.0" font-size="21.2" text-anchor="start">2.5</text>
<text class="t" x="715.6" y="99.2" font-size="21.2" text-anchor="start">3</text>
<text x="203.3" y="19.1" font-size="23.3">ATLAS-SUSY-2016-24</text>
<text x="464.2" y="18.3" font-size="18.9">(efficiencyMap)</text>
<text x="381.9" y="523.1" font-size="20.6" text-anchor="middle">x [GeV]</text>
<text transform="translate(39.6,284.8) rotate(-90)" font-size="20.8" text-anchor="middle">y [GeV]</text>
<text x="732.3" y="521.4" font-size="13" font-weight="bold">best SR</text>
<g transform="translate(784.3,357.6) rotate(-90)">
<text class="t" x="0" y="0" font-size="26">r =</text>
<text class="t" transform="translate(36.4,0) scale(1.3,1)" font-size="26">σ</text>
<text class="t" x="54.9" y="8.2" font-size="17.6">signal</text>
<text class="t" x="96.6" y="8.6" font-size="40">/</text>
<text class="t" transform="translate(107.2,0) scale(1.3,1)" font-size="26">σ</text>
<text class="t" x="125.4" y="8.2" font-size="16.3">UL</text>
</g>
<text x="24" y="67.8" font-size="18">TSlepSlep: pp</text>
<path d="M149.0 63.4 H164.7" stroke="#000" stroke-width="1.15" fill="none"/><path d="M159.4 59.1 q3.2 3.2 5.8 4.3 q-2.6 1.1 -5.8 4.3" stroke="#000" stroke-width="1.15" fill="none" stroke-linejoin="round"/>
<text x="172.7" y="67.8" font-size="18">l</text><text x="181.5" y="67.8" font-size="18">l,</text><text x="195" y="67.8" font-size="18">l</text>
<path d="M170.3 50.9 c0.91 -2.86 2.51 -2.86 3.80 -1.10 s2.89 1.76 3.80 -1.10" stroke="#000" stroke-width="1.12" fill="none"/>
<path d="M179.3 50.9 c0.91 -2.86 2.51 -2.86 3.80 -1.10 s2.89 1.76 3.80 -1.10" stroke="#000" stroke-width="1.12" fill="none"/>
<path d="M192.4 50.9 c0.91 -2.86 2.51 -2.86 3.80 -1.10 s2.89 1.76 3.80 -1.10" stroke="#000" stroke-width="1.12" fill="none"/>
<path d="M211.2 63.4 H227.0" stroke="#000" stroke-width="1.15" fill="none"/><path d="M221.7 59.1 q3.2 3.2 5.8 4.3 q-2.6 1.1 -5.8 4.3" stroke="#000" stroke-width="1.15" fill="none" stroke-linejoin="round"/>
<text x="234.1" y="67.8" font-size="18">l</text>
<text class="t" x="246" y="68" font-size="18.5" font-style="italic">χ</text>
<path d="M247.4 57.0 c0.96 -2.86 2.64 -2.86 4.00 -1.10 s3.04 1.76 4.00 -1.10" stroke="#000" stroke-width="1.12" fill="none"/>
<text x="254.2" y="55.9" font-size="10.6">0</text><text x="254.2" y="76.7" font-size="10.6">1</text>
<text x="668.5" y="67.9" font-size="18">m</text><text x="683.2" y="77" font-size="11.5">l</text>
<text x="686.5" y="67.9" font-size="18">=x, m</text>
<text class="t" x="730.5" y="78.5" font-size="12">χ</text><text x="737.5" y="71.5" font-size="7">0</text><text x="737.5" y="83" font-size="7">1</text>
<text x="742" y="67.9" font-size="18">=y</text>
<path d="M682.0 65.6 c0.55 -1.82 1.52 -1.82 2.30 -0.70 s1.75 1.12 2.30 -0.70" stroke="#000" stroke-width="0.90" fill="none"/>
<path d="M731.4 70.1 c0.58 -1.82 1.58 -1.82 2.40 -0.70 s1.82 1.12 2.40 -0.70" stroke="#000" stroke-width="0.90" fill="none"/>
<rect x="382.5" y="97.4" width="274.1" height="113.6" fill="rgba(255,255,255,0.7)" stroke="#000" stroke-width="1.15"/>
<line x1="396" y1="116.3" x2="464.3" y2="116.3" stroke="#696969" stroke-width="3.2" stroke-dasharray="3 3"/>
<line x1="396" y1="154.7" x2="464.3" y2="154.7" stroke="#696969" stroke-width="3.2"/>
<line x1="396" y1="192.4" x2="464.3" y2="192.4" stroke="#000" stroke-width="3.05"/>
<text class="t" x="478.7" y="124.8" font-size="20.95">±20% (SModelS)</text>
<text class="t" x="478.7" y="163.1" font-size="20.95">exclusion (SModelS)</text>
<text class="t" x="478.7" y="200.9" font-size="20.95">exclusion (official)</text>
<g><rect x="52.8" y="531.6" width="1.0" height="1" fill="rgb(205,205,205)"/><rect x="65.4" y="523.4" width="1.0" height="1" fill="rgb(210,210,210)"/><rect x="76.4" y="523.6" width="2.0" height="1" fill="rgb(215,215,215)"/><rect x="41.9" y="530.3" width="2.0" height="1" fill="rgb(200,200,200)"/><rect x="93.7" y="531.2" width="1.0" height="1" fill="rgb(190,190,190)"/><rect x="35.1" y="522.8" width="1.0" height="1" fill="rgb(190,190,190)"/><rect x="46.0" y="525.3" width="1.0" height="1" fill="rgb(160,160,160)"/><rect x="24.8" y="524.0" width="1.0" height="1" fill="rgb(200,200,200)"/><rect x="89.1" y="534.1" width="1.5" height="1" fill="rgb(190,190,190)"/><rect x="96.2" y="535.2" width="1.0" height="1" fill="rgb(210,210,210)"/><rect x="36.0" y="519.8" width="2.0" height="1" fill="rgb(200,200,200)"/><rect x="65.3" y="517.1" width="1.5" height="1" fill="rgb(150,150,150)"/><rect x="44.7" y="542.2" width="1.0" height="1" fill="rgb(190,190,190)"/><rect x="29.5" y="522.0" width="2.0" height="1" fill="rgb(235,235,235)"/><rect x="81.5" y="533.3" width="1.0" height="1" fill="rgb(235,235,235)"/><rect x="86.8" y="523.2" width="1.5" height="1" fill="rgb(215,215,215)"/><rect x="46.1" y="534.1" width="2.0" height="1" fill="rgb(150,150,150)"/><rect x="71.3" y="528.7" width="2.0" height="1" fill="rgb(175,175,175)"/><rect x="56.6" y="523.9" width="2.0" height="1" fill="rgb(175,175,175)"/><rect x="54.0" y="535.7" width="1.0" height="1" fill="rgb(235,235,235)"/><rect x="84.4" y="523.9" width="1.0" height="1" fill="rgb(210,210,210)"/><rect x="40.4" y="527.3" width="1.0" height="1" fill="rgb(175,175,175)"/><rect x="57.9" y="518.0" width="1.0" height="1" fill="rgb(150,150,150)"/><rect x="74.2" y="534.9" width="1.0" height="1" fill="rgb(175,175,175)"/><rect x="83.6" y="510.7" width="2.0" height="1" fill="rgb(175,175,175)"/><rect x="102.3" y="525.8" width="1.0" height="1" fill="rgb(160,160,160)"/><rect x="70.2" y="531.6" width="1.0" height="1" fill="rgb(190,190,190)"/><rect x="112.7" y="528.3" width="1.5" height="1" fill="rgb(225,225,225)"/><rect x="56.9" y="531.9" width="1.5" height="1" fill="rgb(200,200,200)"/><rect x="41.1" y="522.0" width="1.0" height="1" fill="rgb(225,225,225)"/><rect x="100.4" y="523.0" width="2.0" height="1" fill="rgb(200,200,200)"/><rect x="37.5" y="532.4" width="2.0" height="1" fill="rgb(150,150,150)"/><rect x="69.7" y="528.3" width="2.0" height="1" fill="rgb(190,190,190)"/><rect x="73.4" y="534.0" width="1.0" height="1" fill="rgb(205,205,205)"/><rect x="76.0" y="527.0" width="1.5" height="1" fill="rgb(215,215,215)"/><rect x="51.9" y="524.7" width="2.0" height="1" fill="rgb(190,190,190)"/><rect x="72.7" y="532.5" width="1.5" height="1" fill="rgb(235,235,235)"/><rect x="46.3" y="527.7" width="2.0" height="1" fill="rgb(150,150,150)"/><rect x="36.0" y="528.0" width="1.0" height="1" fill="rgb(225,225,225)"/><rect x="59.9" y="512.2" width="1.0" height="1" fill="rgb(150,150,150)"/><rect x="41.1" y="526.4" width="1.5" height="1" fill="rgb(200,200,200)"/><rect x="81.2" y="536.0" width="1.5" height="1" fill="rgb(205,205,205)"/><rect x="115.4" y="524.6" width="1.5" height="1" fill="rgb(175,175,175)"/><rect x="82.0" y="522.4" width="1.5" height="1" fill="rgb(190,190,190)"/><rect x="34.7" y="517.6" width="1.0" height="1" fill="rgb(190,190,190)"/><rect x="79.1" y="513.6" width="1.0" height="1" fill="rgb(190,190,190)"/><rect x="33.9" y="526.1" width="1.0" height="1" fill="rgb(205,205,205)"/><rect x="67.9" y="517.1" width="1.5" height="1" fill="rgb(190,190,190)"/><rect x="47.0" y="531.8" width="2.0" height="1" fill="rgb(190,190,190)"/><rect x="66.2" y="532.7" width="1.0" height="1" fill="rgb(210,210,210)"/><rect x="19.6" y="528.7" width="1.0" height="1" fill="rgb(215,215,215)"/><rect x="101.2" y="518.6" width="2.0" height="1" fill="rgb(190,190,190)"/><rect x="82.9" y="520.8" width="1.0" height="1" fill="rgb(235,235,235)"/><rect x="37.5" y="532.6" width="1.0" height="1" fill="rgb(215,215,215)"/><rect x="67.0" y="531.1" width="2.0" height="1" fill="rgb(225,225,225)"/><rect x="65.5" y="522.3" width="2.0" height="1" fill="rgb(210,210,210)"/><rect x="45.7" y="520.0" width="1.0" height="1" fill="rgb(200,200,200)"/><rect x="109.7" y="529.2" width="1.0" height="1" fill="rgb(215,215,215)"/><rect x="8.1" y="534.4" width="1.0" height="1" fill="rgb(190,190,190)"/><rect x="59.7" y="534.5" width="1.5" height="1" fill="rgb(190,190,190)"/><rect x="58.3" y="536.4" width="1.0" height="1" fill="rgb(225,225,225)"/><rect x="82.1" y="522.5" width="2.0" height="1" fill="rgb(150,150,150)"/><rect x="86.8" y="510.7" width="1.0" height="1" fill="rgb(225,225,225)"/><rect x="54.6" y="526.7" width="1.0" height="1" fill="rgb(150,150,150)"/><rect x="22.4" y="517.2" width="1.0" height="1" fill="rgb(225,225,225)"/><rect x="84.5" y="536.7" width="1.0" height="1" fill="rgb(215,215,215)"/><rect x="44.4" y="536.7" width="2.0" height="1" fill="rgb(200,200,200)"/><rect x="62.8" y="522.8" width="1.0" height="1" fill="rgb(200,200,200)"/><rect x="60.2" y="534.2" width="2.0" height="1" fill="rgb(215,215,215)"/><rect x="16.2" y="521.2" width="2.0" height="1" fill="rgb(215,215,215)"/><rect x="25.5" y="548.6" width="1.0" height="1" fill="rgb(210,210,210)"/><rect x="49.2" y="517.8" width="2.0" height="1" fill="rgb(200,200,200)"/><rect x="38.9" y="526.7" width="1.5" height="1" fill="rgb(200,200,200)"/><rect x="112.3" y="518.1" width="2.0" height="1" fill="rgb(190,190,190)"/><rect x="69.3" y="530.5" width="1.5" height="1" fill="rgb(150,150,150)"/><rect x="78.7" y="529.9" width="1.0" height="1" fill="rgb(215,215,215)"/><rect x="36.2" y="513.2" width="1.5" height="1" fill="rgb(225,225,225)"/><rect x="96.1" y="541.6" width="1.0" height="1" fill="rgb(150,150,150)"/><rect x="59.7" y="523.0" width="1.0" height="1" fill="rgb(150,150,150)"/><rect x="112.8" y="525.9" width="2.0" height="1" fill="rgb(225,225,225)"/><rect x="88.5" y="526.7" width="1.0" height="1" fill="rgb(160,160,160)"/><rect x="52.4" y="530.1" width="1.0" height="1" fill="rgb(235,235,235)"/><rect x="43.7" y="535.5" width="2.0" height="1" fill="rgb(205,205,205)"/><rect x="40.8" y="538.0" width="1.0" height="1" fill="rgb(200,200,200)"/><rect x="107.6" y="540.1" width="1.0" height="1" fill="rgb(190,190,190)"/><rect x="79.3" y="530.6" width="1.5" height="1" fill="rgb(225,225,225)"/><rect x="61.9" y="510.3" width="2.0" height="1" fill="rgb(175,175,175)"/><rect x="97.1" y="543.3" width="2.0" height="1" fill="rgb(210,210,210)"/><rect x="56.3" y="523.3" width="1.0" height="1" fill="rgb(205,205,205)"/><rect x="50.3" y="528.6" width="1.0" height="1" fill="rgb(205,205,205)"/><rect x="63.7" y="523.4" width="1.0" height="1" fill="rgb(190,190,190)"/><rect x="58.7" y="531.6" width="1.5" height="1" fill="rgb(205,205,205)"/><rect x="89.1" y="526.7" width="1.0" height="1" fill="rgb(175,175,175)"/><rect x="102.4" y="530.8" width="1.0" height="1" fill="rgb(215,215,215)"/><rect x="58.7" y="532.7" width="1.5" height="1" fill="rgb(175,175,175)"/><rect x="41.3" y="525.8" width="1.0" height="1" fill="rgb(150,150,150)"/><rect x="53.5" y="543.1" width="1.0" height="1" fill="rgb(175,175,175)"/><rect x="105.3" y="528.4" width="1.0" height="1" fill="rgb(200,200,200)"/><rect x="39.1" y="526.4" width="1.0" height="1" fill="rgb(150,150,150)"/><rect x="37.9" y="516.1" width="2.0" height="1" fill="rgb(150,150,150)"/><rect x="83.6" y="525.6" width="1.0" height="1" fill="rgb(190,190,190)"/><rect x="30.9" y="541.2" width="2.0" height="1" fill="rgb(225,225,225)"/><rect x="62.5" y="525.7" width="2.0" height="1" fill="rgb(175,175,175)"/><rect x="66.1" y="530.2" width="1.5" height="1" fill="rgb(160,160,160)"/><rect x="25.0" y="519.0" width="2.0" height="1" fill="rgb(205,205,205)"/><rect x="68.8" y="533.5" width="1.5" height="1" fill="rgb(205,205,205)"/><rect x="43.6" y="533.1" width="1.5" height="1" fill="rgb(200,200,200)"/><rect x="50.4" y="534.9" width="1.5" height="1" fill="rgb(205,205,205)"/><rect x="36.6" y="533.9" width="1.0" height="1" fill="rgb(200,200,200)"/><rect x="60.6" y="542.6" width="1.5" height="1" fill="rgb(215,215,215)"/><rect x="66.4" y="522.4" width="1.0" height="1" fill="rgb(210,210,210)"/><rect x="41.4" y="531.7" width="1.0" height="1" fill="rgb(190,190,190)"/><rect x="30.5" y="521.3" width="2.0" height="1" fill="rgb(225,225,225)"/><rect x="64.0" y="512.7" width="1.0" height="1" fill="rgb(150,150,150)"/><rect x="51.7" y="539.2" width="1.0" height="1" fill="rgb(225,225,225)"/><rect x="80.1" y="514.3" width="2.0" height="1" fill="rgb(200,200,200)"/><rect x="54.8" y="510.6" width="1.0" height="1" fill="rgb(225,225,225)"/><rect x="77.1" y="516.4" width="1.0" height="1" fill="rgb(190,190,190)"/><rect x="74.7" y="527.9" width="1.0" height="1" fill="rgb(235,235,235)"/><rect x="38.1" y="533.9" width="1.0" height="1" fill="rgb(205,205,205)"/><rect x="30.3" y="517.3" width="1.5" height="1" fill="rgb(150,150,150)"/><rect x="110.0" y="527.3" width="1.0" height="1" fill="rgb(200,200,200)"/><rect x="54.4" y="524.2" width="1.5" height="1" fill="rgb(150,150,150)"/><rect x="79.7" y="510.8" width="1.0" height="1" fill="rgb(190,190,190)"/><rect x="64.9" y="539.9" width="2.0" height="1" fill="rgb(150,150,150)"/><rect x="66.3" y="524.0" width="1.0" height="1" fill="rgb(175,175,175)"/><rect x="30.2" y="518.3" width="1.0" height="1" fill="rgb(215,215,215)"/><rect x="40.0" y="538.4" width="1.0" height="1" fill="rgb(175,175,175)"/><rect x="69.9" y="527.2" width="1.0" height="1" fill="rgb(175,175,175)"/><rect x="45.1" y="514.4" width="1.5" height="1" fill="rgb(175,175,175)"/><rect x="29.4" y="529.2" width="1.0" height="1" fill="rgb(215,215,215)"/><rect x="55.5" y="530.5" width="1.0" height="1" fill="rgb(150,150,150)"/><rect x="57.3" y="530.5" width="2.0" height="1" fill="rgb(200,200,200)"/><rect x="87.7" y="526.7" width="1.0" height="1" fill="rgb(190,190,190)"/><rect x="46.5" y="524.6" width="1.5" height="1" fill="rgb(200,200,200)"/><rect x="74.3" y="525.6" width="1.5" height="1" fill="rgb(200,200,200)"/><rect x="93.1" y="517.8" width="2.0" height="1" fill="rgb(190,190,190)"/><rect x="85.9" y="520.8" width="1.0" height="1" fill="rgb(205,205,205)"/><rect x="92.6" y="527.2" width="2.0" height="1" fill="rgb(150,150,150)"/><rect x="55.1" y="531.7" width="2.0" height="1" fill="rgb(235,235,235)"/><rect x="38.4" y="542.8" width="1.5" height="1" fill="rgb(205,205,205)"/><rect x="60.2" y="509.8" width="1.0" height="1" fill="rgb(215,215,215)"/><rect x="46.1" y="508.1" width="1.5" height="1" fill="rgb(175,175,175)"/><rect x="40.6" y="533.5" width="1.0" height="1" fill="rgb(210,210,210)"/><rect x="41.0" y="534.3" width="1.0" height="1" fill="rgb(175,175,175)"/><rect x="58.3" y="529.9" width="1.0" height="1" fill="rgb(175,175,175)"/><rect x="60.1" y="534.1" width="1.5" height="1" fill="rgb(200,200,200)"/><rect x="70.0" y="535.1" width="1.0" height="1" fill="rgb(160,160,160)"/><rect x="75.0" y="515.2" width="1.0" height="1" fill="rgb(200,200,200)"/><rect x="58.3" y="524.2" width="2.0" height="1" fill="rgb(160,160,160)"/><rect x="48.5" y="523.8" width="2.0" height="1" fill="rgb(175,175,175)"/><rect x="82.1" y="534.3" width="1.5" height="1" fill="rgb(235,235,235)"/><rect x="46.4" y="541.1" width="2.0" height="1" fill="rgb(175,175,175)"/><rect x="46.8" y="520.7" width="2.0" height="1" fill="rgb(200,200,200)"/><rect x="89.3" y="535.8" width="1.0" height="1" fill="rgb(215,215,215)"/><rect x="8.8" y="526.9" width="1.0" height="1" fill="rgb(200,200,200)"/><rect x="35.9" y="529.4" width="2.0" height="1" fill="rgb(150,150,150)"/><rect x="71.7" y="531.5" width="1.0" height="1" fill="rgb(215,215,215)"/><rect x="53.3" y="530.3" width="1.5" height="1" fill="rgb(190,190,190)"/><rect x="58.1" y="538.7" width="2.0" height="1" fill="rgb(205,205,205)"/><rect x="25.7" y="537.0" width="2.0" height="1" fill="rgb(190,190,190)"/><rect x="54.1" y="541.9" width="1.5" height="1" fill="rgb(150,150,150)"/><rect x="36.4" y="523.2" width="1.0" height="1" fill="rgb(200,200,200)"/><rect x="109.9" y="537.5" width="2.0" height="1" fill="rgb(160,160,160)"/><rect x="41.9" y="519.4" width="1.0" height="1" fill="rgb(175,175,175)"/><rect x="80.5" y="533.8" width="2.0" height="1" fill="rgb(150,150,150)"/><rect x="87.9" y="527.0" width="2.0" height="1" fill="rgb(200,200,200)"/><rect x="80.8" y="525.8" width="1.0" height="1" fill="rgb(215,215,215)"/><rect x="79.2" y="536.0" width="2.0" height="1" fill="rgb(215,215,215)"/><rect x="101.7" y="534.9" width="1.0" height="1" fill="rgb(205,205,205)"/><rect x="66.9" y="547.1" width="1.0" height="1" fill="rgb(175,175,175)"/><rect x="36.0" y="519.1" width="1.0" height="1" fill="rgb(160,160,160)"/><rect x="79.2" y="531.4" width="1.0" height="1" fill="rgb(210,210,210)"/><rect x="44.8" y="531.1" width="1.0" height="1" fill="rgb(210,210,210)"/><rect x="83.7" y="527.5" width="1.5" height="1" fill="rgb(150,150,150)"/><rect x="98.9" y="523.7" width="2.0" height="1" fill="rgb(190,190,190)"/><rect x="25.2" y="525.1" width="2.0" height="1" fill="rgb(205,205,205)"/><rect x="53.3" y="519.6" width="1.0" height="1" fill="rgb(205,205,205)"/><rect x="18.1" y="527.1" width="1.0" height="1" fill="rgb(160,160,160)"/><rect x="58.1" y="540.3" width="1.0" height="1" fill="rgb(235,235,235)"/><rect x="16.8" y="527.6" width="1.5" height="1" fill="rgb(160,160,160)"/><rect x="52.4" y="521.5" width="1.0" height="1" fill="rgb(175,175,175)"/><rect x="40.4" y="542.4" width="2.0" height="1" fill="rgb(190,190,190)"/><rect x="68.4" y="542.0" width="1.0" height="1" fill="rgb(175,175,175)"/><rect x="91.3" y="523.9" width="1.0" height="1" fill="rgb(225,225,225)"/><rect x="95.3" y="531.2" width="1.0" height="1" fill="rgb(160,160,160)"/><rect x="65.7" y="529.3" width="1.0" height="1" fill="rgb(205,205,205)"/><rect x="13.1" y="539.0" width="1.0" height="1" fill="rgb(235,235,235)"/><rect x="51.4" y="532.1" width="2.0" height="1" fill="rgb(200,200,200)"/><rect x="100.5" y="529.6" width="1.5" height="1" fill="rgb(160,160,160)"/><rect x="90.1" y="526.1" width="1.0" height="1" fill="rgb(215,215,215)"/><rect x="70.1" y="528.7" width="1.0" height="1" fill="rgb(160,160,160)"/><rect x="16.2" y="521.3" width="1.5" height="1" fill="rgb(160,160,160)"/><rect x="62.8" y="519.3" width="1.0" height="1" fill="rgb(160,160,160)"/><rect x="90.2" y="530.1" width="2.0" height="1" fill="rgb(235,235,235)"/><rect x="69.3" y="535.0" width="1.0" height="1" fill="rgb(150,150,150)"/><rect x="45.7" y="522.0" width="1.0" height="1" fill="rgb(160,160,160)"/><rect x="37.8" y="534.1" width="1.5" height="1" fill="rgb(205,205,205)"/><rect x="63.4" y="530.1" width="1.5" height="1" fill="rgb(210,210,210)"/><rect x="43.5" y="533.2" width="1.0" height="1" fill="rgb(210,210,210)"/><rect x="56.6" y="541.3" width="1.5" height="1" fill="rgb(235,235,235)"/><rect x="46.9" y="540.8" width="1.0" height="1" fill="rgb(210,210,210)"/><rect x="80.2" y="528.0" width="2.0" height="1" fill="rgb(150,150,150)"/><rect x="86.5" y="524.5" width="2.0" height="1" fill="rgb(175,175,175)"/><rect x="65.9" y="522.6" width="1.0" height="1" fill="rgb(150,150,150)"/><rect x="45.9" y="540.0" width="1.0" height="1" fill="rgb(225,225,225)"/><rect x="48.5" y="534.0" width="1.0" height="1" fill="rgb(235,235,235)"/><rect x="32.2" y="526.3" width="1.0" height="1" fill="rgb(225,225,225)"/><rect x="26.1" y="534.1" width="1.5" height="1" fill="rgb(150,150,150)"/><rect x="75.7" y="535.0" width="1.0" height="1" fill="rgb(215,215,215)"/><rect x="58.9" y="530.8" width="2.0" height="1" fill="rgb(215,215,215)"/><rect x="16.0" y="527.1" width="1.0" height="1" fill="rgb(150,150,150)"/><rect x="62.9" y="536.3" width="1.0" height="1" fill="rgb(210,210,210)"/><rect x="59.3" y="509.6" width="1.5" height="1" fill="rgb(215,215,215)"/><rect x="50.2" y="538.2" width="1.5" height="1" fill="rgb(235,235,235)"/><rect x="58.6" y="521.0" width="1.0" height="1" fill="rgb(190,190,190)"/><rect x="60.5" y="532.2" width="1.0" height="1" fill="rgb(210,210,210)"/><rect x="47.0" y="535.0" width="1.0" height="1" fill="rgb(190,190,190)"/><rect x="52.4" y="523.7" width="1.0" height="1" fill="rgb(150,150,150)"/><rect x="85.4" y="533.1" width="2.0" height="1" fill="rgb(190,190,190)"/><rect x="66.9" y="525.7" width="1.0" height="1" fill="rgb(175,175,175)"/><rect x="73.3" y="531.0" width="1.0" height="1" fill="rgb(210,210,210)"/><rect x="84.5" y="523.3" width="2.0" height="1" fill="rgb(225,225,225)"/><rect x="21.4" y="517.6" width="1.0" height="1" fill="rgb(205,205,205)"/><rect x="31.4" y="516.2" width="1.0" height="1" fill="rgb(235,235,235)"/><rect x="84.8" y="528.9" width="1.0" height="1" fill="rgb(205,205,205)"/><rect x="67.8" y="527.0" width="1.0" height="1" fill="rgb(190,190,190)"/><rect x="72.0" y="518.6" width="1.0" height="1" fill="rgb(235,235,235)"/><rect x="51.8" y="524.5" width="2.0" height="1" fill="rgb(205,205,205)"/><rect x="50.3" y="526.0" width="2.0" height="1" fill="rgb(215,215,215)"/><rect x="51.7" y="522.5" width="1.0" height="1" fill="rgb(200,200,200)"/><rect x="43.9" y="519.6" width="2.0" height="1" fill="rgb(175,175,175)"/><rect x="101.5" y="526.0" width="1.0" height="1" fill="rgb(160,160,160)"/><rect x="46.2" y="537.8" width="2.0" height="1" fill="rgb(235,235,235)"/><rect x="11.6" y="536.0" width="1.0" height="1" fill="rgb(235,235,235)"/><rect x="37.9" y="532.8" width="2.0" height="1" fill="rgb(205,205,205)"/><rect x="84.0" y="521.5" width="2.0" height="1" fill="rgb(215,215,215)"/><rect x="36.5" y="523.0" width="1.0" height="1" fill="rgb(225,225,225)"/><rect x="95.3" y="528.1" width="1.0" height="1" fill="rgb(160,160,160)"/><rect x="58.6" y="521.5" width="1.5" height="1" fill="rgb(235,235,235)"/><rect x="69.0" y="531.7" width="1.0" height="1" fill="rgb(215,215,215)"/><rect x="25.1" y="537.1" width="1.5" height="1" fill="rgb(190,190,190)"/><rect x="106.9" y="542.4" width="1.5" height="1" fill="rgb(150,150,150)"/><rect x="13.8" y="539.6" width="1.0" height="1" fill="rgb(210,210,210)"/><rect x="24.9" y="513.3" width="2.0" height="1" fill="rgb(210,210,210)"/><rect x="46.1" y="523.1" width="1.0" height="1" fill="rgb(150,150,150)"/><rect x="52.5" y="526.0" width="1.0" height="1" fill="rgb(200,200,200)"/><rect x="49.3" y="530.1" width="1.0" height="1" fill="rgb(190,190,190)"/><rect x="94.8" y="530.0" width="1.5" height="1" fill="rgb(205,205,205)"/><rect x="88.0" y="535.2" width="1.5" height="1" fill="rgb(200,200,200)"/><rect x="45.8" y="520.8" width="2.0" height="1" fill="rgb(190,190,190)"/><rect x="39.4" y="532.5" width="2.0" height="1" fill="rgb(200,200,200)"/><rect x="61.0" y="527.7" width="2.0" height="1" fill="rgb(150,150,150)"/><rect x="64.4" y="542.2" width="1.0" height="1" fill="rgb(150,150,150)"/><rect x="70.5" y="518.5" width="1.0" height="1" fill="rgb(215,215,215)"/><rect x="43.2" y="533.7" width="1.0" height="1" fill="rgb(150,150,150)"/><rect x="74.3" y="528.2" width="1.0" height="1" fill="rgb(235,235,235)"/><rect x="91.2" y="530.6" width="1.0" height="1" fill="rgb(160,160,160)"/><rect x="70.2" y="527.5" width="1.0" height="1" fill="rgb(210,210,210)"/><rect x="74.5" y="524.3" width="1.0" height="1" fill="rgb(190,190,190)"/><rect x="79.2" y="516.3" width="1.0" height="1" fill="rgb(175,175,175)"/><rect x="42.7" y="538.1" width="1.0" height="1" fill="rgb(150,150,150)"/><rect x="22.8" y="528.5" width="1.0" height="1" fill="rgb(210,210,210)"/><rect x="56.8" y="529.2" width="2.0" height="1" fill="rgb(225,225,225)"/><rect x="94.8" y="544.9" width="2.0" height="1" fill="rgb(235,235,235)"/><rect x="84.0" y="540.8" width="1.0" height="1" fill="rgb(215,215,215)"/><rect x="42.7" y="520.6" width="1.0" height="1" fill="rgb(150,150,150)"/><rect x="59.6" y="538.1" width="1.5" height="1" fill="rgb(160,160,160)"/><rect x="36.6" y="523.0" width="2.0" height="1" fill="rgb(215,215,215)"/><rect x="64.8" y="539.3" width="1.5" height="1" fill="rgb(205,205,205)"/><rect x="69.1" y="520.8" width="1.5" height="1" fill="rgb(210,210,210)"/><rect x="55.1" y="512.2" width="1.0" height="1" fill="rgb(190,190,190)"/><rect x="50.0" y="539.2" width="1.5" height="1" fill="rgb(160,160,160)"/><rect x="71.8" y="524.1" width="1.0" height="1" fill="rgb(190,190,190)"/><rect x="62.0" y="527.1" width="1.5" height="1" fill="rgb(235,235,235)"/><rect x="80.7" y="532.2" width="2.0" height="1" fill="rgb(190,190,190)"/><rect x="27.7" y="521.0" width="1.5" height="1" fill="rgb(190,190,190)"/><rect x="37.4" y="519.8" width="1.0" height="1" fill="rgb(225,225,225)"/><rect x="79.3" y="524.4" width="2.0" height="1" fill="rgb(225,225,225)"/><rect x="92.9" y="534.3" width="2.0" height="1" fill="rgb(175,175,175)"/><rect x="87.6" y="505.2" width="1.5" height="1" fill="rgb(205,205,205)"/><rect x="29.5" y="520.4" width="2.0" height="1" fill="rgb(210,210,210)"/><rect x="60.6" y="546.5" width="1.0" height="1" fill="rgb(205,205,205)"/><rect x="32.0" y="525.2" width="1.0" height="1" fill="rgb(190,190,190)"/><rect x="105.4" y="532.6" width="1.0" height="1" fill="rgb(205,205,205)"/><rect x="71.7" y="531.7" width="2.0" height="1" fill="rgb(210,210,210)"/><rect x="66.7" y="521.9" width="1.0" height="1" fill="rgb(175,175,175)"/><rect x="57.3" y="529.7" width="1.0" height="1" fill="rgb(150,150,150)"/><rect x="38.8" y="533.8" width="1.0" height="1" fill="rgb(150,150,150)"/><rect x="58.4" y="517.1" width="1.0" height="1" fill="rgb(190,190,190)"/><rect x="57.1" y="539.9" width="1.5" height="1" fill="rgb(215,215,215)"/><rect x="109.5" y="514.1" width="1.0" height="1" fill="rgb(175,175,175)"/><rect x="56.4" y="538.4" width="1.5" height="1" fill="rgb(160,160,160)"/><rect x="41.8" y="546.8" width="1.0" height="1" fill="rgb(190,190,190)"/><rect x="63.6" y="525.9" width="1.0" height="1" fill="rgb(175,175,175)"/><rect x="70.3" y="521.9" width="1.5" height="1" fill="rgb(225,225,225)"/><rect x="69.9" y="535.3" width="1.0" height="1" fill="rgb(210,210,210)"/><rect x="20.2" y="539.1" width="2.0" height="1" fill="rgb(200,200,200)"/><rect x="26.1" y="528.9" width="1.0" height="1" fill="rgb(205,205,205)"/><rect x="18.5" y="532.6" width="1.5" height="1" fill="rgb(210,210,210)"/><rect x="66.8" y="518.3" width="1.0" height="1" fill="rgb(210,210,210)"/><rect x="44.2" y="524.8" width="1.0" height="1" fill="rgb(205,205,205)"/><rect x="89.8" y="535.1" width="1.5" height="1" fill="rgb(225,225,225)"/><rect x="103.1" y="525.0" width="1.0" height="1" fill="rgb(205,205,205)"/><rect x="85.9" y="536.9" width="1.0" height="1" fill="rgb(205,205,205)"/><rect x="59.1" y="523.7" width="1.5" height="1" fill="rgb(210,210,210)"/><rect x="81.8" y="548.3" width="1.0" height="1" fill="rgb(200,200,200)"/><rect x="94.2" y="516.6" width="1.0" height="1" fill="rgb(160,160,160)"/><rect x="60.4" y="533.1" width="1.0" height="1" fill="rgb(205,205,205)"/><rect x="60.3" y="523.2" width="2.0" height="1" fill="rgb(175,175,175)"/><rect x="70.3" y="529.4" width="1.5" height="1" fill="rgb(190,190,190)"/><rect x="47.6" y="535.6" width="1.5" height="1" fill="rgb(205,205,205)"/><rect x="59.0" y="534.3" width="1.5" height="1" fill="rgb(235,235,235)"/><rect x="64.6" y="514.9" width="1.5" height="1" fill="rgb(150,150,150)"/><rect x="54.8" y="525.5" width="1.0" height="1" fill="rgb(160,160,160)"/><rect x="15.6" y="533.0" width="2.0" height="1" fill="rgb(235,235,235)"/><rect x="50.2" y="516.3" width="1.0" height="1" fill="rgb(190,190,190)"/><rect x="39.4" y="523.7" width="1.0" height="1" fill="rgb(160,160,160)"/><rect x="37.2" y="525.9" width="1.0" height="1" fill="rgb(205,205,205)"/><rect x="52.8" y="530.3" width="2.0" height="1" fill="rgb(225,225,225)"/><rect x="23.4" y="525.9" width="1.5" height="1" fill="rgb(225,225,225)"/><rect x="86.3" y="507.5" width="2.0" height="1" fill="rgb(190,190,190)"/><rect x="93.4" y="545.4" width="2.0" height="1" fill="rgb(215,215,215)"/><rect x="70.2" y="513.5" width="1.5" height="1" fill="rgb(215,215,215)"/><rect x="42.5" y="534.2" width="1.0" height="1" fill="rgb(160,160,160)"/><rect x="24.4" y="533.1" width="1.0" height="1" fill="rgb(235,235,235)"/><rect x="50.3" y="536.0" width="1.0" height="1" fill="rgb(200,200,200)"/><rect x="17.8" y="539.8" width="2.0" height="1" fill="rgb(190,190,190)"/><rect x="86.3" y="535.6" width="1.0" height="1" fill="rgb(210,210,210)"/><rect x="45.6" y="533.5" width="2.0" height="1" fill="rgb(225,225,225)"/><rect x="35.8" y="514.4" width="2.0" height="1" fill="rgb(225,225,225)"/><rect x="15.3" y="532.8" width="1.0" height="1" fill="rgb(210,210,210)"/><rect x="81.9" y="534.1" width="1.0" height="1" fill="rgb(190,190,190)"/><rect x="54.9" y="542.0" width="1.0" height="1" fill="rgb(210,210,210)"/><rect x="53.6" y="514.9" width="1.0" height="1" fill="rgb(235,235,235)"/><rect x="76.8" y="526.8" width="1.0" height="1" fill="rgb(215,215,215)"/><rect x="72.7" y="512.9" width="1.5" height="1" fill="rgb(160,160,160)"/><rect x="73.2" y="539.1" width="1.5" height="1" fill="rgb(215,215,215)"/><rect x="67.5" y="535.6" width="1.0" height="1" fill="rgb(205,205,205)"/><rect x="20.1" y="536.4" width="1.5" height="1" fill="rgb(190,190,190)"/><rect x="44.9" y="528.1" width="2.0" height="1" fill="rgb(210,210,210)"/><rect x="80.8" y="527.2" width="2.0" height="1" fill="rgb(160,160,160)"/><rect x="83.6" y="516.0" width="1.0" height="1" fill="rgb(210,210,210)"/><rect x="42.8" y="515.3" width="2.0" height="1" fill="rgb(150,150,150)"/><rect x="44.8" y="538.7" width="2.0" height="1" fill="rgb(215,215,215)"/><rect x="61.4" y="536.1" width="1.5" height="1" fill="rgb(225,225,225)"/><rect x="78.8" y="518.6" width="2.0" height="1" fill="rgb(205,205,205)"/><rect x="19.1" y="525.5" width="1.5" height="1" fill="rgb(225,225,225)"/><rect x="64.9" y="518.2" width="1.0" height="1" fill="rgb(150,150,150)"/><rect x="94.1" y="529.7" width="1.0" height="1" fill="rgb(225,225,225)"/><rect x="47.2" y="526.5" width="2.0" height="1" fill="rgb(210,210,210)"/><rect x="17.0" y="523.4" width="1.0" height="1" fill="rgb(200,200,200)"/><rect x="26.3" y="514.0" width="1.5" height="1" fill="rgb(200,200,200)"/><rect x="70.6" y="540.2" width="1.0" height="1" fill="rgb(160,160,160)"/><rect x="54.9" y="514.7" width="1.5" height="1" fill="rgb(205,205,205)"/><rect x="55.7" y="536.0" width="1.0" height="1" fill="rgb(205,205,205)"/><rect x="34.5" y="531.6" width="1.5" height="1" fill="rgb(235,235,235)"/><rect x="78.4" y="531.9" width="1.0" height="1" fill="rgb(160,160,160)"/><rect x="43.7" y="528.3" width="1.0" height="1" fill="rgb(215,215,215)"/><rect x="24.7" y="529.2" width="1.0" height="1" fill="rgb(190,190,190)"/><rect x="35.9" y="537.2" width="2.0" height="1" fill="rgb(160,160,160)"/><rect x="107.3" y="526.6" width="2.0" height="1" fill="rgb(225,225,225)"/><rect x="26.6" y="540.9" width="2.0" height="1" fill="rgb(175,175,175)"/><rect x="46.1" y="517.7" width="1.5" height="1" fill="rgb(175,175,175)"/><rect x="60.8" y="534.6" width="2.0" height="1" fill="rgb(150,150,150)"/><rect x="24.1" y="532.6" width="1.0" height="1" fill="rgb(235,235,235)"/><rect x="109.6" y="519.3" width="1.0" height="1" fill="rgb(205,205,205)"/><rect x="88.6" y="509.7" width="1.5" height="1" fill="rgb(225,225,225)"/><rect x="56.7" y="525.8" width="1.0" height="1" fill="rgb(205,205,205)"/><rect x="99.0" y="523.1" width="1.0" height="1" fill="rgb(175,175,175)"/><rect x="11.6" y="518.6" width="2.0" height="1" fill="rgb(225,225,225)"/><rect x="50.8" y="531.3" width="1.0" height="1" fill="rgb(160,160,160)"/><rect x="27.0" y="518.3" width="1.5" height="1" fill="rgb(215,215,215)"/><rect x="74.0" y="540.1" width="1.0" height="1" fill="rgb(200,200,200)"/><rect x="58.5" y="517.3" width="1.0" height="1" fill="rgb(215,215,215)"/><rect x="58.1" y="533.5" width="2.0" height="1" fill="rgb(225,225,225)"/><rect x="50.3" y="527.1" width="1.0" height="1" fill="rgb(150,150,150)"/><rect x="53.5" y="520.6" width="1.0" height="1" fill="rgb(225,225,225)"/><rect x="73.1" y="533.7" width="2.0" height="1" fill="rgb(210,210,210)"/><rect x="32.8" y="512.1" width="2.0" height="1" fill="rgb(235,235,235)"/><rect x="95.5" y="532.8" width="1.0" height="1" fill="rgb(205,205,205)"/><rect x="27.3" y="518.3" width="1.0" height="1" fill="rgb(235,235,235)"/><rect x="27.8" y="526.3" width="1.0" height="1" fill="rgb(225,225,225)"/><rect x="66.6" y="536.1" width="1.5" height="1" fill="rgb(225,225,225)"/><rect x="94.0" y="534.4" width="2.0" height="1" fill="rgb(235,235,235)"/><rect x="66.3" y="515.7" width="1.5" height="1" fill="rgb(190,190,190)"/><rect x="33.1" y="530.7" width="1.0" height="1" fill="rgb(200,200,200)"/><rect x="70.8" y="520.4" width="2.0" height="1" fill="rgb(150,150,150)"/><rect x="78.0" y="521.1" width="2.0" height="1" fill="rgb(190,190,190)"/><rect x="66.5" y="519.2" width="1.5" height="1" fill="rgb(235,235,235)"/><rect x="112.3" y="544.4" width="1.0" height="1" fill="rgb(215,215,215)"/><rect x="31.4" y="533.8" width="1.0" height="1" fill="rgb(160,160,160)"/><rect x="49.2" y="529.6" width="1.0" height="1" fill="rgb(205,205,205)"/><rect x="73.9" y="517.8" width="2.0" height="1" fill="rgb(205,205,205)"/><rect x="30.8" y="518.5" width="1.0" height="1" fill="rgb(210,210,210)"/><rect x="69.7" y="540.0" width="1.0" height="1" fill="rgb(150,150,150)"/><rect x="74.2" y="530.4" width="2.0" height="1" fill="rgb(205,205,205)"/><rect x="69.5" y="507.3" width="1.5" height="1" fill="rgb(205,205,205)"/><rect x="70.6" y="523.5" width="1.5" height="1" fill="rgb(175,175,175)"/><rect x="71.6" y="522.6" width="1.5" height="1" fill="rgb(205,205,205)"/><rect x="95.9" y="528.5" width="1.0" height="1" fill="rgb(210,210,210)"/><rect x="26.0" y="527.2" width="2.0" height="1" fill="rgb(215,215,215)"/><rect x="55.5" y="527.5" width="1.0" height="1" fill="rgb(160,160,160)"/><rect x="31.5" y="528.4" width="1.0" height="1" fill="rgb(215,215,215)"/><rect x="48.1" y="522.1" width="1.0" height="1" fill="rgb(225,225,225)"/><rect x="56.6" y="527.5" width="1.0" height="1" fill="rgb(215,215,215)"/><rect x="62.8" y="531.5" width="1.0" height="1" fill="rgb(150,150,150)"/><rect x="54.2" y="538.5" width="1.0" height="1" fill="rgb(150,150,150)"/><rect x="83.6" y="523.0" width="1.0" height="1" fill="rgb(225,225,225)"/><rect x="50.4" y="538.1" width="2.0" height="1" fill="rgb(150,150,150)"/><rect x="31.5" y="510.5" width="1.0" height="1" fill="rgb(205,205,205)"/><rect x="64.8" y="527.1" width="1.0" height="1" fill="rgb(210,210,210)"/><rect x="41.4" y="532.0" width="1.0" height="1" fill="rgb(210,210,210)"/><rect x="111.3" y="522.5" width="1.0" height="1" fill="rgb(210,210,210)"/><rect x="32.4" y="547.1" width="2.0" height="1" fill="rgb(150,150,150)"/><rect x="53.1" y="522.5" width="1.5" height="1" fill="rgb(215,215,215)"/><rect x="76.1" y="525.5" width="2.0" height="1" fill="rgb(160,160,160)"/><rect x="23.0" y="537.4" width="1.5" height="1" fill="rgb(175,175,175)"/><rect x="57.4" y="530.1" width="1.5" height="1" fill="rgb(210,210,210)"/><rect x="90.7" y="516.4" width="1.0" height="1" fill="rgb(205,205,205)"/><rect x="40.6" y="522.4" width="1.0" height="1" fill="rgb(160,160,160)"/><rect x="29.6" y="536.6" width="1.0" height="1" fill="rgb(210,210,210)"/><rect x="68.1" y="520.1" width="1.5" height="1" fill="rgb(205,205,205)"/><rect x="57.6" y="536.4" width="1.0" height="1" fill="rgb(210,210,210)"/><rect x="56.3" y="531.8" width="1.0" height="1" fill="rgb(210,210,210)"/><rect x="51.8" y="544.4" width="2.0" height="1" fill="rgb(200,200,200)"/><rect x="53.3" y="530.1" width="2.0" height="1" fill="rgb(200,200,200)"/><rect x="65.5" y="521.2" width="1.5" height="1" fill="rgb(190,190,190)"/><rect x="27.0" y="518.6" width="1.0" height="1" fill="rgb(150,150,150)"/><rect x="93.3" y="521.6" width="2.0" height="1" fill="rgb(205,205,205)"/><rect x="48.4" y="528.0" width="1.0" height="1" fill="rgb(235,235,235)"/><rect x="64.0" y="538.8" width="1.5" height="1" fill="rgb(175,175,175)"/><rect x="23.0" y="528.8" width="1.0" height="1" fill="rgb(190,190,190)"/><rect x="66.3" y="532.3" width="1.5" height="1" fill="rgb(175,175,175)"/><rect x="36.7" y="523.0" width="1.0" height="1" fill="rgb(200,200,200)"/><rect x="61.5" y="547.4" width="1.5" height="1" fill="rgb(150,150,150)"/><rect x="78.0" y="520.5" width="1.0" height="1" fill="rgb(150,150,150)"/><rect x="81.0" y="537.1" width="1.5" height="1" fill="rgb(235,235,235)"/><rect x="54.3" y="526.8" width="1.0" height="1" fill="rgb(205,205,205)"/><rect x="116.0" y="525.9" width="1.0" height="1" fill="rgb(150,150,150)"/><rect x="56.5" y="542.6" width="1.0" height="1" fill="rgb(160,160,160)"/><rect x="105.1" y="521.9" width="1.0" height="1" fill="rgb(210,210,210)"/><rect x="59.8" y="529.5" width="1.0" height="1" fill="rgb(190,190,190)"/><rect x="55.2" y="528.5" width="1.5" height="1" fill="rgb(205,205,205)"/><rect x="81.3" y="519.8" width="2.0" height="1" fill="rgb(215,215,215)"/><rect x="98.7" y="520.4" width="1.5" height="1" fill="rgb(215,215,215)"/><rect x="51.5" y="533.0" width="2.0" height="1" fill="rgb(215,215,215)"/><rect x="82.4" y="543.0" width="1.0" height="1" fill="rgb(235,235,235)"/><rect x="79.8" y="526.7" width="1.5" height="1" fill="rgb(205,205,205)"/><rect x="69.1" y="525.9" width="1.0" height="1" fill="rgb(200,200,200)"/><rect x="64.5" y="524.6" width="2.0" height="1" fill="rgb(200,200,200)"/><rect x="74.7" y="528.7" width="1.0" height="1" fill="rgb(205,205,205)"/><rect x="49.5" y="520.2" width="2.0" height="1" fill="rgb(210,210,210)"/><rect x="60.7" y="522.8" width="1.5" height="1" fill="rgb(235,235,235)"/><rect x="59.4" y="531.6" width="2.0" height="1" fill="rgb(150,150,150)"/><rect x="70.1" y="532.8" width="1.0" height="1" fill="rgb(225,225,225)"/><rect x="64.9" y="522.0" width="1.0" height="1" fill="rgb(190,190,190)"/><rect x="111.4" y="519.7" width="2.0" height="1" fill="rgb(225,225,225)"/><rect x="55.6" y="528.2" width="2.0" height="1" fill="rgb(215,215,215)"/><rect x="84.3" y="525.6" width="2.0" height="1" fill="rgb(190,190,190)"/><rect x="80.0" y="532.7" width="1.0" height="1" fill="rgb(235,235,235)"/><rect x="58.5" y="521.3" width="1.0" height="1" fill="rgb(150,150,150)"/><rect x="45.2" y="528.9" width="2.0" height="1" fill="rgb(160,160,160)"/><rect x="60.1" y="529.0" width="1.5" height="1" fill="rgb(210,210,210)"/><rect x="51.4" y="531.7" width="1.0" height="1" fill="rgb(150,150,150)"/><rect x="34.9" y="544.7" width="1.0" height="1" fill="rgb(215,215,215)"/><rect x="69.5" y="526.6" width="2.0" height="1" fill="rgb(190,190,190)"/><rect x="67.2" y="523.1" width="1.5" height="1" fill="rgb(190,190,190)"/><rect x="40.2" y="529.9" width="1.0" height="1" fill="rgb(190,190,190)"/><rect x="78.9" y="531.3" width="1.0" height="1" fill="rgb(225,225,225)"/><rect x="98.4" y="505.3" width="1.0" height="1" fill="rgb(225,225,225)"/><rect x="28.8" y="530.8" width="1.0" height="1" fill="rgb(200,200,200)"/><rect x="13.7" y="532.6" width="1.5" height="1" fill="rgb(200,200,200)"/><rect x="71.7" y="535.8" width="1.0" height="1" fill="rgb(160,160,160)"/><rect x="57.0" y="532.6" width="1.0" height="1" fill="rgb(225,225,225)"/><rect x="55.6" y="521.2" width="1.0" height="1" fill="rgb(215,215,215)"/><rect x="94.8" y="517.7" width="1.0" height="1" fill="rgb(175,175,175)"/><rect x="70.5" y="538.9" width="1.5" height="1" fill="rgb(190,190,190)"/><rect x="63.0" y="530.2" width="2.0" height="1" fill="rgb(200,200,200)"/><rect x="93.8" y="510.1" width="1.5" height="1" fill="rgb(200,200,200)"/><rect x="32.6" y="541.9" width="1.0" height="1" fill="rgb(150,150,150)"/><rect x="58.2" y="532.7" width="1.0" height="1" fill="rgb(235,235,235)"/><rect x="73.9" y="534.4" width="1.0" height="1" fill="rgb(210,210,210)"/><rect x="19.8" y="543.4" width="1.0" height="1" fill="rgb(200,200,200)"/><rect x="92.2" y="536.8" width="2.0" height="1" fill="rgb(235,235,235)"/><rect x="6.9" y="518.1" width="1.0" height="1" fill="rgb(175,175,175)"/><rect x="91.4" y="524.0" width="1.0" height="1" fill="rgb(200,200,200)"/><rect x="25.9" y="524.9" width="1.0" height="1" fill="rgb(205,205,205)"/><rect x="79.5" y="525.7" width="1.0" height="1" fill="rgb(225,225,225)"/><rect x="77.0" y="531.1" width="1.0" height="1" fill="rgb(205,205,205)"/><rect x="95.7" y="534.9" width="1.5" height="1" fill="rgb(190,190,190)"/><rect x="97.6" y="528.4" width="2.0" height="1" fill="rgb(210,210,210)"/><rect x="16.8" y="525.0" width="1.5" height="1" fill="rgb(215,215,215)"/><rect x="90.4" y="516.5" width="1.5" height="1" fill="rgb(205,205,205)"/><rect x="83.4" y="534.3" width="1.5" height="1" fill="rgb(200,200,200)"/><rect x="71.0" y="529.9" width="1.0" height="1" fill="rgb(225,225,225)"/><rect x="70.2" y="523.1" width="2.0" height="1" fill="rgb(210,210,210)"/><rect x="59.6" y="521.6" width="2.0" height="1" fill="rgb(205,205,205)"/><rect x="47.0" y="515.6" width="1.0" height="1" fill="rgb(210,210,210)"/><rect x="7.2" y="540.1" width="1.5" height="1" fill="rgb(235,235,235)"/><rect x="16.6" y="537.0" width="1.5" height="1" fill="rgb(160,160,160)"/><rect x="81.6" y="511.0" width="1.5" height="1" fill="rgb(205,205,205)"/><rect x="79.4" y="524.3" width="1.0" height="1" fill="rgb(160,160,160)"/><rect x="37.3" y="535.3" width="1.5" height="1" fill="rgb(215,215,215)"/><rect x="29.7" y="531.4" width="1.0" height="1" fill="rgb(205,205,205)"/><rect x="107.4" y="545.3" width="1.0" height="1" fill="rgb(150,150,150)"/><rect x="81.2" y="509.6" width="1.0" height="1" fill="rgb(205,205,205)"/><rect x="85.9" y="517.6" width="1.5" height="1" fill="rgb(210,210,210)"/><rect x="24.9" y="515.2" width="1.0" height="1" fill="rgb(205,205,205)"/><rect x="59.9" y="537.9" width="1.0" height="1" fill="rgb(160,160,160)"/><rect x="82.0" y="524.7" width="1.5" height="1" fill="rgb(175,175,175)"/><rect x="51.5" y="523.4" width="1.5" height="1" fill="rgb(210,210,210)"/><rect x="92.3" y="533.1" width="2.0" height="1" fill="rgb(225,225,225)"/><rect x="70.6" y="530.4" width="2.0" height="1" fill="rgb(175,175,175)"/><rect x="40.2" y="523.6" width="1.5" height="1" fill="rgb(215,215,215)"/><rect x="80.5" y="516.6" width="1.0" height="1" fill="rgb(210,210,210)"/><rect x="49.0" y="522.1" width="2.0" height="1" fill="rgb(235,235,235)"/><rect x="78.5" y="522.2" width="2.0" height="1" fill="rgb(150,150,150)"/><rect x="62.9" y="525.0" width="1.0" height="1" fill="rgb(235,235,235)"/><rect x="73.2" y="537.5" width="2.0" height="1" fill="rgb(210,210,210)"/><rect x="86.0" y="527.6" width="1.5" height="1" fill="rgb(190,190,190)"/><rect x="29.5" y="523.4" width="1.0" height="1" fill="rgb(175,175,175)"/><rect x="46.4" y="541.9" width="1.0" height="1" fill="rgb(225,225,225)"/><rect x="39.6" y="521.9" width="2.0" height="1" fill="rgb(205,205,205)"/><rect x="73.2" y="519.7" width="1.0" height="1" fill="rgb(215,215,215)"/><rect x="102.0" y="526.1" width="2.0" height="1" fill="rgb(225,225,225)"/><rect x="46.4" y="534.2" width="1.5" height="1" fill="rgb(190,190,190)"/><rect x="74.6" y="517.2" width="1.5" height="1" fill="rgb(150,150,150)"/><rect x="69.6" y="513.2" width="2.0" height="1" fill="rgb(225,225,225)"/><rect x="61.8" y="526.4" width="1.0" height="1" fill="rgb(200,200,200)"/><rect x="33.8" y="522.9" width="1.0" height="1" fill="rgb(175,175,175)"/><rect x="37.7" y="533.8" width="1.5" height="1" fill="rgb(150,150,150)"/><rect x="56.1" y="519.6" width="2.0" height="1" fill="rgb(160,160,160)"/><rect x="58.1" y="526.2" width="2.0" height="1" fill="rgb(150,150,150)"/><rect x="43.2" y="529.0" width="1.0" height="1" fill="rgb(175,175,175)"/><rect x="35.0" y="530.4" width="1.0" height="1" fill="rgb(190,190,190)"/><rect x="70.9" y="519.7" width="1.0" height="1" fill="rgb(210,210,210)"/><rect x="78.3" y="525.4" width="1.0" height="1" fill="rgb(160,160,160)"/><rect x="81.3" y="528.1" width="1.5" height="1" fill="rgb(150,150,150)"/><rect x="102.3" y="519.6" width="2.0" height="1" fill="rgb(200,200,200)"/><rect x="26.4" y="525.8" width="2.0" height="1" fill="rgb(160,160,160)"/><rect x="52.1" y="527.6" width="2.0" height="1" fill="rgb(235,235,235)"/><rect x="99.8" y="522.7" width="1.0" height="1" fill="rgb(200,200,200)"/><rect x="82.0" y="532.1" width="1.0" height="1" fill="rgb(160,160,160)"/><rect x="112.7" y="511.1" width="2.0" height="1" fill="rgb(150,150,150)"/><rect x="23.5" y="531.6" width="1.5" height="1" fill="rgb(210,210,210)"/><rect x="43.4" y="513.1" width="1.0" height="1" fill="rgb(215,215,215)"/><rect x="42.6" y="533.5" width="1.5" height="1" fill="rgb(215,215,215)"/><rect x="46.5" y="526.7" width="1.5" height="1" fill="rgb(175,175,175)"/><rect x="82.3" y="520.9" width="1.5" height="1" fill="rgb(225,225,225)"/><rect x="67.7" y="521.4" width="2.0" height="1" fill="rgb(190,190,190)"/><rect x="76.3" y="538.6" width="1.0" height="1" fill="rgb(210,210,210)"/><rect x="54.6" y="525.0" width="1.0" height="1" fill="rgb(160,160,160)"/><rect x="65.6" y="519.5" width="1.0" height="1" fill="rgb(200,200,200)"/><rect x="84.4" y="522.5" width="1.0" height="1" fill="rgb(215,215,215)"/><rect x="50.9" y="521.8" width="1.5" height="1" fill="rgb(150,150,150)"/><rect x="101.1" y="513.1" width="1.0" height="1" fill="rgb(200,200,200)"/><rect x="34.3" y="522.8" width="1.0" height="1" fill="rgb(215,215,215)"/><rect x="86.1" y="539.7" width="1.0" height="1" fill="rgb(215,215,215)"/><rect x="73.8" y="530.2" width="2.0" height="1" fill="rgb(200,200,200)"/><rect x="77.1" y="515.9" width="1.0" height="1" fill="rgb(205,205,205)"/><rect x="45.3" y="516.2" width="1.0" height="1" fill="rgb(225,225,225)"/><rect x="49.6" y="531.4" width="1.0" height="1" fill="rgb(175,175,175)"/><rect x="103.1" y="510.1" width="1.5" height="1" fill="rgb(215,215,215)"/><rect x="74.0" y="538.8" width="1.0" height="1" fill="rgb(205,205,205)"/><rect x="65.3" y="535.9" width="2.0" height="1" fill="rgb(205,205,205)"/><rect x="79.5" y="529.2" width="1.0" height="1" fill="rgb(190,190,190)"/><rect x="80.1" y="537.1" width="1.5" height="1" fill="rgb(225,225,225)"/><rect x="116.2" y="527.7" width="1.5" height="1" fill="rgb(150,150,150)"/><rect x="41.4" y="530.4" width="1.0" height="1" fill="rgb(150,150,150)"/><rect x="61.2" y="535.9" width="1.0" height="1" fill="rgb(210,210,210)"/><rect x="35.8" y="531.7" width="1.0" height="1" fill="rgb(150,150,150)"/><rect x="65.6" y="520.5" width="1.0" height="1" fill="rgb(225,225,225)"/><rect x="48.7" y="531.5" width="2.0" height="1" fill="rgb(175,175,175)"/><rect x="47.2" y="525.3" width="2.0" height="1" fill="rgb(200,200,200)"/><rect x="39.1" y="538.2" width="2.0" height="1" fill="rgb(215,215,215)"/><rect x="71.9" y="519.6" width="2.0" height="1" fill="rgb(190,190,190)"/><rect x="68.3" y="533.9" width="2.0" height="1" fill="rgb(190,190,190)"/><rect x="100.4" y="529.9" width="1.0" height="1" fill="rgb(235,235,235)"/><rect x="60.8" y="531.7" width="1.5" height="1" fill="rgb(190,190,190)"/><rect x="12.7" y="522.6" width="2.0" height="1" fill="rgb(200,200,200)"/><rect x="11.2" y="530.3" width="1.0" height="1" fill="rgb(190,190,190)"/><rect x="46.8" y="531.6" width="2.0" height="1" fill="rgb(160,160,160)"/><rect x="34.6" y="518.4" width="2.0" height="1" fill="rgb(175,175,175)"/><rect x="39.9" y="526.8" width="1.0" height="1" fill="rgb(150,150,150)"/><rect x="35.2" y="521.5" width="1.0" height="1" fill="rgb(235,235,235)"/><rect x="32.4" y="533.1" width="1.0" height="1" fill="rgb(225,225,225)"/><rect x="54.6" y="523.5" width="2.0" height="1" fill="rgb(175,175,175)"/><rect x="103.8" y="529.6" width="1.5" height="1" fill="rgb(225,225,225)"/><rect x="103.9" y="528.3" width="1.0" height="1" fill="rgb(225,225,225)"/><rect x="42.2" y="539.0" width="1.0" height="1" fill="rgb(215,215,215)"/><rect x="35.5" y="523.8" width="1.5" height="1" fill="rgb(200,200,200)"/><rect x="75.7" y="540.4" width="1.0" height="1" fill="rgb(215,215,215)"/><rect x="47.6" y="543.1" width="1.5" height="1" fill="rgb(160,160,160)"/><rect x="26.7" y="540.7" width="1.0" height="1" fill="rgb(150,150,150)"/><rect x="76.1" y="524.8" width="1.5" height="1" fill="rgb(235,235,235)"/><rect x="65.1" y="525.8" width="1.0" height="1" fill="rgb(150,150,150)"/><rect x="88.3" y="527.0" width="1.0" height="1" fill="rgb(215,215,215)"/><rect x="54.3" y="533.9" width="1.0" height="1" fill="rgb(210,210,210)"/><rect x="58.1" y="524.5" width="1.0" height="1" fill="rgb(205,205,205)"/><rect x="17.3" y="533.4" width="2.0" height="1" fill="rgb(225,225,225)"/><rect x="57.4" y="515.6" width="1.0" height="1" fill="rgb(225,225,225)"/><rect x="19.8" y="520.9" width="2.0" height="1" fill="rgb(175,175,175)"/><rect x="42.4" y="516.7" width="1.0" height="1" fill="rgb(205,205,205)"/><rect x="84.5" y="513.6" width="1.0" height="1" fill="rgb(175,175,175)"/><rect x="86.3" y="518.6" width="1.0" height="1" fill="rgb(205,205,205)"/><rect x="56.8" y="524.8" width="1.0" height="1" fill="rgb(235,235,235)"/><rect x="64.4" y="518.8" width="2.0" height="1" fill="rgb(215,215,215)"/><rect x="50.5" y="518.5" width="1.0" height="1" fill="rgb(210,210,210)"/><rect x="57.6" y="530.8" width="2.0" height="1" fill="rgb(160,160,160)"/><rect x="98.9" y="521.1" width="1.0" height="1" fill="rgb(150,150,150)"/><rect x="51.5" y="521.5" width="1.0" height="1" fill="rgb(200,200,200)"/><rect x="41.9" y="527.4" width="1.5" height="1" fill="rgb(200,200,200)"/><rect x="67.6" y="531.8" width="1.5" height="1" fill="rgb(190,190,190)"/><rect x="60.0" y="530.1" width="1.5" height="1" fill="rgb(235,235,235)"/><rect x="44.0" y="530.2" width="1.0" height="1" fill="rgb(175,175,175)"/><rect x="88.7" y="537.7" width="1.0" height="1" fill="rgb(150,150,150)"/><rect x="59.2" y="526.1" width="1.0" height="1" fill="rgb(150,150,150)"/><rect x="84.0" y="523.7" width="1.0" height="1" fill="rgb(175,175,175)"/><rect x="71.6" y="523.7" width="1.0" height="1" fill="rgb(210,210,210)"/><rect x="34.2" y="541.3" width="2.0" height="1" fill="rgb(200,200,200)"/><rect x="61.1" y="521.5" width="2.0" height="1" fill="rgb(225,225,225)"/><rect x="75.2" y="519.2" width="1.0" height="1" fill="rgb(190,190,190)"/><rect x="58.4" y="525.7" width="1.0" height="1" fill="rgb(150,150,150)"/><rect x="117.3" y="532.2" width="1.0" height="1" fill="rgb(175,175,175)"/><rect x="78.5" y="532.0" width="1.0" height="1" fill="rgb(215,215,215)"/><rect x="45.8" y="536.0" width="1.5" height="1" fill="rgb(235,235,235)"/><rect x="65.3" y="530.0" width="2.0" height="1" fill="rgb(205,205,205)"/><rect x="106.6" y="526.3" width="1.5" height="1" fill="rgb(215,215,215)"/><rect x="95.8" y="525.6" width="2.0" height="1" fill="rgb(215,215,215)"/><rect x="91.2" y="524.2" width="1.5" height="1" fill="rgb(200,200,200)"/><rect x="35.8" y="517.0" width="1.0" height="1" fill="rgb(175,175,175)"/><rect x="101.0" y="534.0" width="2.0" height="1" fill="rgb(205,205,205)"/><rect x="72.5" y="520.6" width="1.0" height="1" fill="rgb(225,225,225)"/><rect x="95.7" y="535.6" width="1.5" height="1" fill="rgb(175,175,175)"/><rect x="30.6" y="535.9" width="1.5" height="1" fill="rgb(235,235,235)"/><rect x="61.9" y="531.8" width="1.5" height="1" fill="rgb(235,235,235)"/><rect x="60.5" y="529.6" width="2.0" height="1" fill="rgb(210,210,210)"/><rect x="115.8" y="514.8" width="2.0" height="1" fill="rgb(150,150,150)"/><rect x="43.6" y="527.0" width="1.0" height="1" fill="rgb(175,175,175)"/><rect x="72.6" y="532.0" width="2.0" height="1" fill="rgb(225,225,225)"/><rect x="41.5" y="520.1" width="2.0" height="1" fill="rgb(205,205,205)"/><rect x="40.5" y="527.8" width="1.0" height="1" fill="rgb(235,235,235)"/><rect x="97.7" y="529.5" width="2.0" height="1" fill="rgb(200,200,200)"/><rect x="66.7" y="529.7" width="2.0" height="1" fill="rgb(205,205,205)"/><rect x="67.8" y="524.9" width="1.0" height="1" fill="rgb(205,205,205)"/><rect x="73.8" y="523.9" width="1.0" height="1" fill="rgb(175,175,175)"/><rect x="26.2" y="531.1" width="1.0" height="1" fill="rgb(235,235,235)"/><rect x="25.6" y="529.2" width="2.0" height="1" fill="rgb(200,200,200)"/><rect x="28.8" y="531.8" width="2.0" height="1" fill="rgb(225,225,225)"/><rect x="97.8" y="524.0" width="1.5" height="1" fill="rgb(205,205,205)"/><rect x="41.8" y="522.2" width="2.0" height="1" fill="rgb(210,210,210)"/><rect x="90.7" y="524.0" width="1.5" height="1" fill="rgb(225,225,225)"/><rect x="82.8" y="518.7" width="1.0" height="1" fill="rgb(205,205,205)"/><rect x="67.9" y="541.5" width="1.0" height="1" fill="rgb(215,215,215)"/><rect x="45.6" y="519.7" width="2.0" height="1" fill="rgb(210,210,210)"/><rect x="46.8" y="532.1" width="2.0" height="1" fill="rgb(150,150,150)"/><rect x="58.6" y="533.4" width="1.0" height="1" fill="rgb(190,190,190)"/><rect x="69.6" y="543.9" width="1.0" height="1" fill="rgb(215,215,215)"/><rect x="39.1" y="525.7" width="1.0" height="1" fill="rgb(150,150,150)"/><rect x="41.1" y="524.9" width="1.0" height="1" fill="rgb(210,210,210)"/><rect x="54.5" y="507.4" width="1.0" height="1" fill="rgb(210,210,210)"/><rect x="85.2" y="516.1" width="1.0" height="1" fill="rgb(150,150,150)"/><rect x="83.2" y="518.4" width="1.0" height="1" fill="rgb(215,215,215)"/><rect x="18.7" y="530.4" width="1.0" height="1" fill="rgb(200,200,200)"/><rect x="77.9" y="525.8" width="1.0" height="1" fill="rgb(150,150,150)"/><rect x="91.6" y="538.8" width="2.0" height="1" fill="rgb(205,205,205)"/><rect x="62.2" y="535.7" width="1.0" height="1" fill="rgb(205,205,205)"/><rect x="46.3" y="528.1" width="2.0" height="1" fill="rgb(225,225,225)"/><rect x="70.1" y="524.9" width="1.0" height="1" fill="rgb(190,190,190)"/><rect x="109.2" y="518.0" width="1.5" height="1" fill="rgb(225,225,225)"/><rect x="59.3" y="518.8" width="1.5" height="1" fill="rgb(205,205,205)"/><rect x="79.4" y="533.1" width="1.5" height="1" fill="rgb(200,200,200)"/><rect x="58.5" y="524.4" width="1.5" height="1" fill="rgb(210,210,210)"/><rect x="88.6" y="533.7" width="1.0" height="1" fill="rgb(210,210,210)"/><rect x="61.2" y="535.4" width="1.0" height="1" fill="rgb(150,150,150)"/><rect x="79.4" y="516.9" width="1.0" height="1" fill="rgb(215,215,215)"/><rect x="49.1" y="527.3" width="1.0" height="1" fill="rgb(175,175,175)"/><rect x="98.0" y="543.9" width="1.0" height="1" fill="rgb(160,160,160)"/><rect x="41.9" y="523.4" width="2.0" height="1" fill="rgb(175,175,175)"/><rect x="85.5" y="527.7" width="2.0" height="1" fill="rgb(225,225,225)"/><rect x="62.3" y="524.7" width="2.0" height="1" fill="rgb(225,225,225)"/><rect x="100.4" y="507.3" width="2.0" height="1" fill="rgb(150,150,150)"/><rect x="33.7" y="526.1" width="1.0" height="1" fill="rgb(200,200,200)"/><rect x="54.4" y="531.4" width="1.0" height="1" fill="rgb(210,210,210)"/><rect x="72.4" y="543.2" width="1.5" height="1" fill="rgb(150,150,150)"/><rect x="35.4" y="522.9" width="1.5" height="1" fill="rgb(235,235,235)"/><rect x="96.8" y="527.4" width="1.0" height="1" fill="rgb(235,235,235)"/><rect x="90.8" y="528.3" width="1.0" height="1" fill="rgb(210,210,210)"/><rect x="29.3" y="516.4" width="1.5" height="1" fill="rgb(225,225,225)"/><rect x="52.4" y="529.2" width="1.5" height="1" fill="rgb(175,175,175)"/><rect x="28.9" y="522.4" width="1.0" height="1" fill="rgb(225,225,225)"/><rect x="112.0" y="517.1" width="1.0" height="1" fill="rgb(215,215,215)"/><rect x="66.0" y="514.4" width="1.5" height="1" fill="rgb(215,215,215)"/><rect x="72.9" y="511.6" width="1.0" height="1" fill="rgb(190,190,190)"/><rect x="50.0" y="520.0" width="1.5" height="1" fill="rgb(235,235,235)"/><rect x="20.3" y="526.3" width="2.0" height="1" fill="rgb(235,235,235)"/><rect x="37.9" y="539.1" width="2.0" height="1" fill="rgb(235,235,235)"/><rect x="71.1" y="532.0" width="2.0" height="1" fill="rgb(150,150,150)"/><rect x="25.8" y="530.9" width="1.0" height="1" fill="rgb(175,175,175)"/><rect x="46.7" y="524.4" width="1.5" height="1" fill="rgb(175,175,175)"/><rect x="54.8" y="515.7" width="1.0" height="1" fill="rgb(235,235,235)"/><rect x="92.6" y="521.3" width="1.0" height="1" fill="rgb(215,215,215)"/><rect x="51.3" y="534.9" width="1.5" height="1" fill="rgb(150,150,150)"/></g>
<text transform="translate(22.0,532.8) scale(0.77,1)" font-size="24" style="fill:#444;stroke:#444;stroke-width:0.4">S</text>
<text transform="translate(33.6,532.8) scale(0.83,1)" font-size="24" style="fill:#444;stroke:#444;stroke-width:0.4">M</text>
<text transform="translate(62.0,532.8) scale(0.80,1)" font-size="24" style="fill:#444;stroke:#444;stroke-width:0.4">d</text>
<text transform="translate(72.0,532.8) scale(0.64,1)" font-size="24" style="fill:#444;stroke:#444;stroke-width:0.4">e</text>
<text transform="translate(80.4,532.8) scale(0.95,1)" font-size="24" style="fill:#444;stroke:#444;stroke-width:0.4">l</text>
<text transform="translate(84.9,532.8) scale(0.83,1)" font-size="24" style="fill:#444;stroke:#444;stroke-width:0.4">S</text>
<circle cx="55.6" cy="531.2" r="4.0" fill="#fff" stroke="#f01800" stroke-width="2.2"/>
<path d="M37 539 l1.2 -1 l1.2 1.6 l1.2 -1.6 l1.2 1.6 l1.2 -1.6 l1.2 1.6 l1.2 -1 L47.5 538.8 L52.4 534.6 M58.9 534.6 L64.5 538.8 l1.2 1 l1.2 -1.6 l1.2 1.6 l1.2 -1.6 l1.2 1.6 l1.2 -1.6 l1.2 1.6 l1.2 -1" fill="none" stroke="#f01800" stroke-width="1.4"/>
</svg></body></html>
